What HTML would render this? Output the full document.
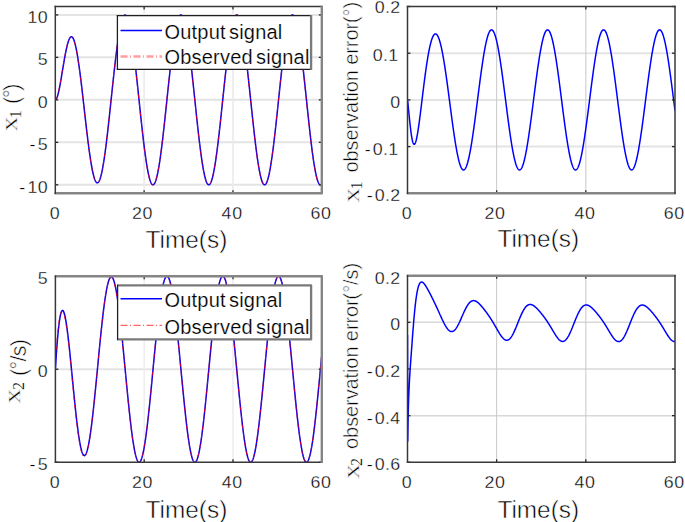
<!DOCTYPE html><html><head><meta charset="utf-8"><style>html,body{margin:0;padding:0;background:#fff;width:685px;height:522px;overflow:hidden}svg{display:block}text{font-family:"Liberation Sans",sans-serif;fill:#000;stroke:#fff;stroke-width:0.50px}.t{stroke-width:0.30px}.l{stroke-width:0.20px}.xs{stroke-width:0.15px}.xx{stroke-width:0.45px}.s{font-family:"Liberation Serif",serif}</style></head><body>
<svg width="685" height="522" viewBox="0 0 685 522">
<defs>
<clipPath id="c0"><rect x="55.30" y="6.40" width="266.50" height="186.90"/></clipPath>
<clipPath id="c1"><rect x="407.50" y="6.50" width="267.50" height="186.80"/></clipPath>
<clipPath id="c2"><rect x="55.40" y="276.20" width="266.40" height="186.10"/></clipPath>
<clipPath id="c3"><rect x="407.50" y="275.70" width="267.50" height="186.60"/></clipPath>
</defs>
<line x1="55.30" y1="184.80" x2="321.80" y2="184.80" stroke="#e4e4e4" stroke-width="2.00"/>
<line x1="55.30" y1="142.33" x2="321.80" y2="142.33" stroke="#e4e4e4" stroke-width="2.00"/>
<line x1="55.30" y1="99.85" x2="321.80" y2="99.85" stroke="#e4e4e4" stroke-width="2.00"/>
<line x1="55.30" y1="57.37" x2="321.80" y2="57.37" stroke="#e4e4e4" stroke-width="2.00"/>
<line x1="55.30" y1="14.90" x2="321.80" y2="14.90" stroke="#e4e4e4" stroke-width="2.00"/>
<line x1="144.13" y1="6.40" x2="144.13" y2="193.30" stroke="#ebebeb" stroke-width="1.60"/>
<line x1="232.97" y1="6.40" x2="232.97" y2="193.30" stroke="#ebebeb" stroke-width="1.60"/>
<g clip-path="url(#c0)">
<path d="M55.30,99.85 L55.52,99.81 L55.74,99.68 L55.97,99.48 L56.19,99.20 L56.41,98.84 L56.63,98.41 L56.85,97.92 L57.08,97.35 L57.30,96.73 L57.52,96.04 L57.74,95.29 L57.96,94.49 L58.19,93.64 L58.41,92.74 L58.63,91.79 L58.85,90.79 L59.08,89.75 L59.30,88.68 L59.52,87.57 L59.74,86.42 L59.96,85.25 L60.19,84.04 L60.41,82.81 L60.63,81.56 L60.85,80.29 L61.07,79.00 L61.30,77.70 L61.52,76.38 L61.74,75.06 L61.96,73.72 L62.18,72.38 L62.41,71.04 L62.63,69.70 L62.85,68.36 L63.07,67.02 L63.29,65.69 L63.52,64.37 L63.74,63.06 L63.96,61.77 L64.18,60.48 L64.41,59.22 L64.63,57.97 L64.85,56.75 L65.07,55.54 L65.29,54.36 L65.52,53.21 L65.74,52.08 L65.96,50.99 L66.18,49.92 L66.40,48.89 L66.63,47.89 L66.85,46.92 L67.07,46.00 L67.29,45.11 L67.51,44.26 L67.74,43.45 L67.96,42.68 L68.18,41.95 L68.40,41.27 L68.62,40.63 L68.85,40.04 L69.07,39.49 L69.29,38.99 L69.51,38.54 L69.74,38.14 L69.96,37.78 L70.18,37.48 L70.40,37.23 L70.62,37.02 L70.85,36.87 L71.07,36.77 L71.29,36.72 L71.51,36.72 L71.73,36.78 L71.96,36.88 L72.18,37.04 L72.40,37.25 L72.62,37.51 L72.84,37.83 L73.07,38.20 L73.29,38.62 L73.51,39.09 L73.73,39.61 L73.95,40.18 L74.18,40.81 L74.40,41.48 L74.62,42.21 L74.84,42.98 L75.07,43.80 L75.29,44.68 L75.51,45.59 L75.73,46.56 L75.95,47.57 L76.18,48.63 L76.40,49.73 L76.62,50.88 L76.84,52.07 L77.06,53.30 L77.29,54.57 L77.51,55.89 L77.73,57.24 L77.95,58.63 L78.17,60.06 L78.40,61.53 L78.62,63.03 L78.84,64.56 L79.06,66.13 L79.28,67.73 L79.51,69.36 L79.73,71.02 L79.95,72.71 L80.17,74.42 L80.40,76.16 L80.62,77.93 L80.84,79.71 L81.06,81.52 L81.28,83.35 L81.51,85.20 L81.73,87.07 L81.95,88.95 L82.17,90.85 L82.39,92.76 L82.62,94.68 L82.84,96.61 L83.06,98.56 L83.28,100.51 L83.50,102.46 L83.73,104.43 L83.95,106.39 L84.17,108.36 L84.39,110.33 L84.61,112.29 L84.84,114.26 L85.06,116.22 L85.28,118.18 L85.50,120.13 L85.73,122.07 L85.95,124.01 L86.17,125.93 L86.39,127.84 L86.61,129.74 L86.84,131.62 L87.06,133.48 L87.28,135.33 L87.50,137.16 L87.72,138.97 L87.95,140.76 L88.17,142.53 L88.39,144.27 L88.61,145.99 L88.83,147.68 L89.06,149.34 L89.28,150.98 L89.50,152.58 L89.72,154.16 L89.94,155.70 L90.17,157.21 L90.39,158.68 L90.61,160.12 L90.83,161.52 L91.06,162.89 L91.28,164.22 L91.50,165.50 L91.72,166.75 L91.94,167.96 L92.17,169.12 L92.39,170.24 L92.61,171.32 L92.83,172.36 L93.05,173.35 L93.28,174.29 L93.50,175.19 L93.72,176.04 L93.94,176.84 L94.16,177.59 L94.39,178.30 L94.61,178.96 L94.83,179.56 L95.05,180.12 L95.28,180.63 L95.50,181.08 L95.72,181.49 L95.94,181.84 L96.16,182.14 L96.39,182.39 L96.61,182.58 L96.83,182.73 L97.05,182.82 L97.27,182.86 L97.50,182.85 L97.72,182.78 L97.94,182.66 L98.16,182.49 L98.38,182.26 L98.61,181.99 L98.83,181.66 L99.05,181.28 L99.27,180.84 L99.49,180.36 L99.72,179.82 L99.94,179.24 L100.16,178.60 L100.38,177.91 L100.60,177.17 L100.83,176.39 L101.05,175.55 L101.27,174.66 L101.49,173.73 L101.72,172.75 L101.94,171.73 L102.16,170.65 L102.38,169.54 L102.60,168.37 L102.83,167.17 L103.05,165.92 L103.27,164.63 L103.49,163.29 L103.71,161.92 L103.94,160.51 L104.16,159.05 L104.38,157.56 L104.60,156.03 L104.82,154.47 L105.05,152.87 L105.27,151.24 L105.49,149.57 L105.71,147.87 L105.94,146.14 L106.16,144.38 L106.38,142.60 L106.60,140.78 L106.82,138.94 L107.05,137.07 L107.27,135.18 L107.49,133.27 L107.71,131.33 L107.93,129.37 L108.16,127.40 L108.38,125.40 L108.60,123.39 L108.82,121.37 L109.04,119.33 L109.27,117.27 L109.49,115.21 L109.71,113.13 L109.93,111.05 L110.15,108.96 L110.38,106.86 L110.60,104.76 L110.82,102.65 L111.04,100.54 L111.27,98.43 L111.49,96.32 L111.71,94.21 L111.93,92.11 L112.15,90.01 L112.38,87.91 L112.60,85.82 L112.82,83.75 L113.04,81.68 L113.26,79.62 L113.49,77.57 L113.71,75.54 L113.93,73.52 L114.15,71.52 L114.37,69.53 L114.60,67.56 L114.82,65.62 L115.04,63.69 L115.26,61.79 L115.48,59.91 L115.71,58.05 L115.93,56.23 L116.15,54.42 L116.37,52.65 L116.59,50.91 L116.82,49.19 L117.04,47.51 L117.26,45.86 L117.48,44.24 L117.71,42.66 L117.93,41.11 L118.15,39.60 L118.37,38.13 L118.59,36.70 L118.82,35.30 L119.04,33.95 L119.26,32.64 L119.48,31.37 L119.70,30.14 L119.93,28.95 L120.15,27.81 L120.37,26.72 L120.59,25.67 L120.81,24.66 L121.04,23.71 L121.26,22.80 L121.48,21.94 L121.70,21.12 L121.92,20.36 L122.15,19.65 L122.37,18.98 L122.59,18.37 L122.81,17.81 L123.04,17.30 L123.26,16.84 L123.48,16.43 L123.70,16.08 L123.92,15.78 L124.15,15.53 L124.37,15.33 L124.59,15.18 L124.81,15.09 L125.03,15.06 L125.26,15.07 L125.48,15.14 L125.70,15.26 L125.92,15.43 L126.14,15.66 L126.37,15.94 L126.59,16.27 L126.81,16.66 L127.03,17.09 L127.25,17.58 L127.48,18.12 L127.70,18.71 L127.92,19.35 L128.14,20.04 L128.37,20.79 L128.59,21.58 L128.81,22.42 L129.03,23.31 L129.25,24.24 L129.48,25.23 L129.70,26.26 L129.92,27.34 L130.14,28.46 L130.36,29.63 L130.59,30.84 L130.81,32.09 L131.03,33.39 L131.25,34.73 L131.47,36.10 L131.70,37.52 L131.92,38.98 L132.14,40.48 L132.36,42.01 L132.59,43.58 L132.81,45.19 L133.03,46.83 L133.25,48.50 L133.47,50.20 L133.70,51.94 L133.92,53.70 L134.14,55.50 L134.36,57.32 L134.58,59.17 L134.81,61.04 L135.03,62.94 L135.25,64.86 L135.47,66.81 L135.69,68.77 L135.92,70.76 L136.14,72.76 L136.36,74.78 L136.58,76.81 L136.80,78.86 L137.03,80.93 L137.25,83.00 L137.47,85.09 L137.69,87.18 L137.92,89.28 L138.14,91.39 L138.36,93.51 L138.58,95.63 L138.80,97.75 L139.03,99.87 L139.25,101.99 L139.47,104.11 L139.69,106.23 L139.91,108.35 L140.14,110.46 L140.36,112.56 L140.58,114.65 L140.80,116.74 L141.02,118.81 L141.25,120.88 L141.47,122.93 L141.69,124.96 L141.91,126.98 L142.13,128.99 L142.36,130.97 L142.58,132.94 L142.80,134.88 L143.02,136.81 L143.25,138.71 L143.47,140.58 L143.69,142.43 L143.91,144.26 L144.13,146.05 L144.36,147.82 L144.58,149.56 L144.80,151.26 L145.02,152.94 L145.24,154.58 L145.47,156.18 L145.69,157.76 L145.91,159.29 L146.13,160.79 L146.35,162.25 L146.58,163.67 L146.80,165.05 L147.02,166.39 L147.24,167.69 L147.46,168.95 L147.69,170.16 L147.91,171.33 L148.13,172.45 L148.35,173.53 L148.57,174.57 L148.80,175.55 L149.02,176.49 L149.24,177.38 L149.46,178.23 L149.69,179.02 L149.91,179.77 L150.13,180.46 L150.35,181.10 L150.57,181.70 L150.80,182.24 L151.02,182.73 L151.24,183.17 L151.46,183.56 L151.68,183.89 L151.91,184.17 L152.13,184.40 L152.35,184.58 L152.57,184.70 L152.79,184.77 L153.02,184.79 L153.24,184.76 L153.46,184.67 L153.68,184.52 L153.91,184.33 L154.13,184.08 L154.35,183.78 L154.57,183.43 L154.79,183.02 L155.02,182.57 L155.24,182.06 L155.46,181.50 L155.68,180.89 L155.90,180.23 L156.13,179.52 L156.35,178.75 L156.57,177.94 L156.79,177.08 L157.01,176.17 L157.24,175.22 L157.46,174.22 L157.68,173.17 L157.90,172.07 L158.12,170.93 L158.35,169.75 L158.57,168.52 L158.79,167.25 L159.01,165.93 L159.24,164.58 L159.46,163.18 L159.68,161.75 L159.90,160.27 L160.12,158.76 L160.35,157.22 L160.57,155.63 L160.79,154.01 L161.01,152.36 L161.23,150.67 L161.46,148.96 L161.68,147.21 L161.90,145.43 L162.12,143.63 L162.34,141.79 L162.57,139.93 L162.79,138.05 L163.01,136.14 L163.23,134.21 L163.45,132.25 L163.68,130.28 L163.90,128.29 L164.12,126.28 L164.34,124.25 L164.56,122.21 L164.79,120.16 L165.01,118.09 L165.23,116.01 L165.45,113.92 L165.68,111.82 L165.90,109.71 L166.12,107.60 L166.34,105.48 L166.56,103.36 L166.79,101.24 L167.01,99.12 L167.23,96.99 L167.45,94.87 L167.67,92.75 L167.90,90.64 L168.12,88.53 L168.34,86.43 L168.56,84.34 L168.78,82.25 L169.01,80.18 L169.23,78.12 L169.45,76.08 L169.67,74.05 L169.89,72.03 L170.12,70.03 L170.34,68.05 L170.56,66.09 L170.78,64.16 L171.01,62.24 L171.23,60.35 L171.45,58.48 L171.67,56.64 L171.89,54.82 L172.12,53.04 L172.34,51.28 L172.56,49.55 L172.78,47.86 L173.00,46.19 L173.23,44.56 L173.45,42.97 L173.67,41.41 L173.89,39.89 L174.11,38.40 L174.34,36.95 L174.56,35.55 L174.78,34.18 L175.00,32.85 L175.22,31.57 L175.45,30.32 L175.67,29.13 L175.89,27.97 L176.11,26.86 L176.34,25.80 L176.56,24.78 L176.78,23.81 L177.00,22.89 L177.22,22.01 L177.45,21.18 L177.67,20.41 L177.89,19.68 L178.11,19.00 L178.33,18.38 L178.56,17.80 L178.78,17.27 L179.00,16.80 L179.22,16.38 L179.44,16.01 L179.67,15.69 L179.89,15.43 L180.11,15.22 L180.33,15.06 L180.56,14.96 L180.78,14.90 L181.00,14.90 L181.22,14.96 L181.44,15.06 L181.67,15.22 L181.89,15.44 L182.11,15.70 L182.33,16.02 L182.55,16.39 L182.78,16.81 L183.00,17.29 L183.22,17.81 L183.44,18.39 L183.66,19.02 L183.89,19.70 L184.11,20.43 L184.33,21.21 L184.55,22.03 L184.77,22.91 L185.00,23.83 L185.22,24.81 L185.44,25.82 L185.66,26.89 L185.88,28.00 L186.11,29.16 L186.33,30.36 L186.55,31.60 L186.77,32.88 L187.00,34.21 L187.22,35.58 L187.44,36.99 L187.66,38.44 L187.88,39.92 L188.11,41.45 L188.33,43.01 L188.55,44.61 L188.77,46.24 L188.99,47.90 L189.22,49.60 L189.44,51.32 L189.66,53.08 L189.88,54.87 L190.10,56.69 L190.33,58.53 L190.55,60.40 L190.77,62.29 L190.99,64.21 L191.22,66.15 L191.44,68.11 L191.66,70.08 L191.88,72.08 L192.10,74.10 L192.33,76.13 L192.55,78.18 L192.77,80.24 L192.99,82.31 L193.21,84.39 L193.44,86.49 L193.66,88.59 L193.88,90.70 L194.10,92.81 L194.32,94.93 L194.55,97.05 L194.77,99.17 L194.99,101.30 L195.21,103.42 L195.43,105.54 L195.66,107.66 L195.88,109.77 L196.10,111.88 L196.32,113.97 L196.55,116.06 L196.77,118.14 L196.99,120.21 L197.21,122.27 L197.43,124.31 L197.66,126.33 L197.88,128.34 L198.10,130.34 L198.32,132.31 L198.54,134.26 L198.77,136.19 L198.99,138.10 L199.21,139.98 L199.43,141.84 L199.65,143.68 L199.88,145.48 L200.10,147.26 L200.32,149.01 L200.54,150.72 L200.76,152.41 L200.99,154.06 L201.21,155.68 L201.43,157.26 L201.65,158.81 L201.88,160.32 L202.10,161.79 L202.32,163.23 L202.54,164.62 L202.76,165.97 L202.99,167.29 L203.21,168.56 L203.43,169.79 L203.65,170.97 L203.87,172.11 L204.10,173.20 L204.32,174.25 L204.54,175.25 L204.76,176.21 L204.98,177.11 L205.21,177.97 L205.43,178.78 L205.65,179.54 L205.87,180.25 L206.09,180.92 L206.32,181.52 L206.54,182.08 L206.76,182.59 L206.98,183.05 L207.21,183.45 L207.43,183.80 L207.65,184.10 L207.87,184.35 L208.09,184.54 L208.32,184.68 L208.54,184.77 L208.76,184.80 L208.98,184.79 L209.20,184.71 L209.43,184.59 L209.65,184.41 L209.87,184.18 L210.09,183.90 L210.31,183.56 L210.54,183.17 L210.76,182.73 L210.98,182.24 L211.20,181.70 L211.42,181.10 L211.65,180.46 L211.87,179.76 L212.09,179.02 L212.31,178.22 L212.54,177.38 L212.76,176.49 L212.98,175.54 L213.20,174.56 L213.42,173.52 L213.65,172.44 L213.87,171.32 L214.09,170.15 L214.31,168.93 L214.53,167.67 L214.76,166.37 L214.98,165.03 L215.20,163.65 L215.42,162.23 L215.64,160.77 L215.87,159.27 L216.09,157.73 L216.31,156.16 L216.53,154.55 L216.75,152.91 L216.98,151.23 L217.20,149.53 L217.42,147.79 L217.64,146.02 L217.87,144.22 L218.09,142.40 L218.31,140.55 L218.53,138.67 L218.75,136.77 L218.98,134.84 L219.20,132.90 L219.42,130.93 L219.64,128.95 L219.86,126.94 L220.09,124.92 L220.31,122.88 L220.53,120.83 L220.75,118.77 L220.97,116.69 L221.20,114.60 L221.42,112.51 L221.64,110.40 L221.86,108.29 L222.08,106.18 L222.31,104.06 L222.53,101.94 L222.75,99.81 L222.97,97.69 L223.19,95.57 L223.42,93.45 L223.64,91.33 L223.86,89.22 L224.08,87.12 L224.31,85.02 L224.53,82.94 L224.75,80.86 L224.97,78.80 L225.19,76.74 L225.42,74.71 L225.64,72.69 L225.86,70.68 L226.08,68.70 L226.30,66.73 L226.53,64.79 L226.75,62.86 L226.97,60.96 L227.19,59.09 L227.41,57.24 L227.64,55.41 L227.86,53.62 L228.08,51.85 L228.30,50.11 L228.52,48.41 L228.75,46.73 L228.97,45.09 L229.19,43.49 L229.41,41.91 L229.64,40.38 L229.86,38.88 L230.08,37.42 L230.30,36.00 L230.52,34.62 L230.75,33.28 L230.97,31.98 L231.19,30.72 L231.41,29.51 L231.63,28.34 L231.86,27.22 L232.08,26.14 L232.30,25.11 L232.52,24.12 L232.74,23.18 L232.97,22.29 L233.19,21.45 L233.41,20.66 L233.63,19.91 L233.86,19.22 L234.08,18.57 L234.30,17.98 L234.52,17.44 L234.74,16.95 L234.97,16.51 L235.19,16.13 L235.41,15.79 L235.63,15.51 L235.85,15.28 L236.08,15.11 L236.30,14.98 L236.52,14.91 L236.74,14.90 L236.96,14.93 L237.19,15.02 L237.41,15.16 L237.63,15.36 L237.85,15.61 L238.07,15.91 L238.30,16.26 L238.52,16.67 L238.74,17.13 L238.96,17.64 L239.19,18.20 L239.41,18.81 L239.63,19.47 L239.85,20.18 L240.07,20.94 L240.30,21.76 L240.52,22.62 L240.74,23.53 L240.96,24.48 L241.18,25.49 L241.41,26.54 L241.63,27.63 L241.85,28.77 L242.07,29.96 L242.29,31.19 L242.52,32.46 L242.74,33.77 L242.96,35.13 L243.18,36.52 L243.40,37.96 L243.63,39.43 L243.85,40.95 L244.07,42.49 L244.29,44.08 L244.51,45.70 L244.74,47.35 L244.96,49.04 L245.18,50.76 L245.40,52.50 L245.63,54.28 L245.85,56.09 L246.07,57.92 L246.29,59.78 L246.51,61.67 L246.74,63.58 L246.96,65.51 L247.18,67.46 L247.40,69.43 L247.62,71.43 L247.85,73.44 L248.07,75.46 L248.29,77.51 L248.51,79.56 L248.73,81.63 L248.96,83.71 L249.18,85.80 L249.40,87.90 L249.62,90.00 L249.85,92.12 L250.07,94.23 L250.29,96.36 L250.51,98.48 L250.73,100.60 L250.96,102.73 L251.18,104.85 L251.40,106.97 L251.62,109.08 L251.84,111.19 L252.07,113.29 L252.29,115.38 L252.51,117.46 L252.73,119.54 L252.95,121.60 L253.18,123.64 L253.40,125.67 L253.62,127.69 L253.84,129.69 L254.06,131.67 L254.29,133.62 L254.51,135.56 L254.73,137.48 L254.95,139.37 L255.18,141.24 L255.40,143.08 L255.62,144.89 L255.84,146.68 L256.06,148.44 L256.29,150.16 L256.51,151.86 L256.73,153.52 L256.95,155.15 L257.17,156.75 L257.40,158.31 L257.62,159.83 L257.84,161.31 L258.06,162.76 L258.28,164.17 L258.51,165.54 L258.73,166.86 L258.95,168.15 L259.17,169.39 L259.39,170.59 L259.62,171.74 L259.84,172.85 L260.06,173.91 L260.28,174.93 L260.50,175.90 L260.73,176.82 L260.95,177.70 L261.17,178.52 L261.39,179.30 L261.62,180.03 L261.84,180.70 L262.06,181.33 L262.28,181.91 L262.50,182.43 L262.73,182.90 L262.95,183.32 L263.17,183.69 L263.39,184.01 L263.61,184.27 L263.84,184.48 L264.06,184.64 L264.28,184.75 L264.50,184.80 L264.72,184.80 L264.95,184.74 L265.17,184.64 L265.39,184.48 L265.61,184.26 L265.84,184.00 L266.06,183.68 L266.28,183.31 L266.50,182.88 L266.72,182.41 L266.95,181.88 L267.17,181.30 L267.39,180.68 L267.61,180.00 L267.83,179.27 L268.06,178.49 L268.28,177.66 L268.50,176.78 L268.72,175.86 L268.94,174.89 L269.17,173.87 L269.39,172.80 L269.61,171.69 L269.83,170.53 L270.05,169.33 L270.28,168.09 L270.50,166.80 L270.72,165.48 L270.94,164.11 L271.16,162.70 L271.39,161.25 L271.61,159.76 L271.83,158.24 L272.05,156.68 L272.28,155.08 L272.50,153.45 L272.72,151.79 L272.94,150.09 L273.16,148.36 L273.39,146.60 L273.61,144.81 L273.83,143.00 L274.05,141.16 L274.27,139.29 L274.50,137.39 L274.72,135.48 L274.94,133.54 L275.16,131.58 L275.38,129.60 L275.61,127.60 L275.83,125.58 L276.05,123.55 L276.27,121.50 L276.50,119.44 L276.72,117.37 L276.94,115.29 L277.16,113.20 L277.38,111.09 L277.61,108.99 L277.83,106.87 L278.05,104.75 L278.27,102.63 L278.49,100.51 L278.72,98.38 L278.94,96.26 L279.16,94.14 L279.38,92.02 L279.60,89.91 L279.83,87.81 L280.05,85.71 L280.27,83.62 L280.49,81.54 L280.71,79.47 L280.94,77.41 L281.16,75.37 L281.38,73.35 L281.60,71.34 L281.82,69.35 L282.05,67.37 L282.27,65.42 L282.49,63.49 L282.71,61.58 L282.94,59.70 L283.16,57.84 L283.38,56.01 L283.60,54.20 L283.82,52.43 L284.05,50.68 L284.27,48.96 L284.49,47.28 L284.71,45.63 L284.93,44.01 L285.16,42.42 L285.38,40.88 L285.60,39.37 L285.82,37.89 L286.04,36.46 L286.27,35.07 L286.49,33.71 L286.71,32.40 L286.93,31.13 L287.16,29.90 L287.38,28.72 L287.60,27.58 L287.82,26.49 L288.04,25.44 L288.27,24.44 L288.49,23.48 L288.71,22.58 L288.93,21.72 L289.15,20.91 L289.38,20.15 L289.60,19.44 L289.82,18.78 L290.04,18.17 L290.26,17.61 L290.49,17.10 L290.71,16.65 L290.93,16.25 L291.15,15.89 L291.37,15.60 L291.60,15.35 L291.82,15.16 L292.04,15.02 L292.26,14.93 L292.49,14.90 L292.71,14.92 L292.93,14.99 L293.15,15.11 L293.37,15.29 L293.60,15.52 L293.82,15.81 L294.04,16.14 L294.26,16.53 L294.48,16.97 L294.71,17.46 L294.93,18.01 L295.15,18.60 L295.37,19.25 L295.59,19.94 L295.82,20.69 L296.04,21.49 L296.26,22.33 L296.48,23.22 L296.70,24.16 L296.93,25.15 L297.15,26.19 L297.37,27.27 L297.59,28.39 L297.81,29.56 L298.04,30.78 L298.26,32.04 L298.48,33.34 L298.70,34.68 L298.93,36.06 L299.15,37.49 L299.37,38.95 L299.59,40.45 L299.81,41.98 L300.04,43.56 L300.26,45.16 L300.48,46.81 L300.70,48.48 L300.92,50.19 L301.15,51.93 L301.37,53.70 L301.59,55.49 L301.81,57.32 L302.03,59.17 L302.26,61.05 L302.48,62.95 L302.70,64.87 L302.92,66.82 L303.14,68.79 L303.37,70.77 L303.59,72.78 L303.81,74.80 L304.03,76.84 L304.26,78.89 L304.48,80.95 L304.70,83.03 L304.92,85.11 L305.14,87.21 L305.37,89.31 L305.59,91.43 L305.81,93.54 L306.03,95.66 L306.25,97.78 L306.48,99.91 L306.70,102.03 L306.92,104.15 L307.14,106.27 L307.36,108.39 L307.59,110.50 L307.81,112.60 L308.03,114.70 L308.25,116.78 L308.48,118.86 L308.70,120.92 L308.92,122.97 L309.14,125.01 L309.36,127.03 L309.59,129.03 L309.81,131.02 L310.03,132.98 L310.25,134.93 L310.47,136.85 L310.70,138.75 L310.92,140.63 L311.14,142.48 L311.36,144.30 L311.58,146.10 L311.81,147.87 L312.03,149.60 L312.25,151.31 L312.47,152.98 L312.69,154.62 L312.92,156.23 L313.14,157.80 L313.36,159.33 L313.58,160.83 L313.81,162.29 L314.03,163.71 L314.25,165.09 L314.47,166.43 L314.69,167.73 L314.92,168.99 L315.14,170.20 L315.36,171.37 L315.58,172.49 L315.80,173.57 L316.03,174.60 L316.25,175.59 L316.47,176.53 L316.69,177.42 L316.91,178.26 L317.14,179.05 L317.36,179.79 L317.58,180.49 L317.80,181.13 L318.02,181.72 L318.25,182.26 L318.47,182.75 L318.69,183.19 L318.91,183.58 L319.14,183.91 L319.36,184.19 L319.58,184.42 L319.80,184.60 L320.02,184.72 L320.25,184.79 L320.47,184.80 L320.69,184.77 L320.91,184.68 L321.13,184.53 L321.36,184.34 L321.58,184.09 L321.80,183.79" fill="none" stroke="#0000ff" stroke-width="1.50" stroke-linejoin="round"/>
<path d="M55.30,99.85 L55.52,99.77 L55.74,99.61 L55.97,99.37 L56.19,99.05 L56.41,98.65 L56.63,98.18 L56.85,97.65 L57.08,97.04 L57.30,96.38 L57.52,95.65 L57.74,94.87 L57.96,94.03 L58.19,93.14 L58.41,92.20 L58.63,91.22 L58.85,90.19 L59.08,89.13 L59.30,88.03 L59.52,86.89 L59.74,85.72 L59.96,84.53 L60.19,83.30 L60.41,82.06 L60.63,80.79 L60.85,79.51 L61.07,78.21 L61.30,76.90 L61.52,75.58 L61.74,74.25 L61.96,72.91 L62.18,71.58 L62.41,70.24 L62.63,68.90 L62.85,67.57 L63.07,66.24 L63.29,64.92 L63.52,63.61 L63.74,62.32 L63.96,61.03 L64.18,59.77 L64.41,58.52 L64.63,57.29 L64.85,56.09 L65.07,54.91 L65.29,53.75 L65.52,52.62 L65.74,51.52 L65.96,50.45 L66.18,49.41 L66.40,48.41 L66.63,47.43 L66.85,46.50 L67.07,45.60 L67.29,44.74 L67.51,43.92 L67.74,43.15 L67.96,42.41 L68.18,41.71 L68.40,41.06 L68.62,40.46 L68.85,39.90 L69.07,39.39 L69.29,38.92 L69.51,38.50 L69.74,38.13 L69.96,37.81 L70.18,37.54 L70.40,37.32 L70.62,37.15 L70.85,37.03 L71.07,36.96 L71.29,36.94 L71.51,36.98 L71.73,37.06 L71.96,37.20 L72.18,37.39 L72.40,37.64 L72.62,37.93 L72.84,38.27 L73.07,38.67 L73.29,39.12 L73.51,39.62 L73.73,40.17 L73.95,40.77 L74.18,41.43 L74.40,42.13 L74.62,42.88 L74.84,43.68 L75.07,44.53 L75.29,45.42 L75.51,46.37 L75.73,47.36 L75.95,48.39 L76.18,49.47 L76.40,50.60 L76.62,51.76 L76.84,52.97 L77.06,54.23 L77.29,55.52 L77.51,56.85 L77.73,58.22 L77.95,59.63 L78.17,61.08 L78.40,62.56 L78.62,64.07 L78.84,65.62 L79.06,67.21 L79.28,68.82 L79.51,70.46 L79.73,72.13 L79.95,73.83 L80.17,75.55 L80.40,77.30 L80.62,79.08 L80.84,80.87 L81.06,82.69 L81.28,84.53 L81.51,86.38 L81.73,88.25 L81.95,90.14 L82.17,92.04 L82.39,93.95 L82.62,95.88 L82.84,97.81 L83.06,99.76 L83.28,101.71 L83.50,103.66 L83.73,105.62 L83.95,107.59 L84.17,109.55 L84.39,111.52 L84.61,113.48 L84.84,115.44 L85.06,117.40 L85.28,119.35 L85.50,121.29 L85.73,123.22 L85.95,125.15 L86.17,127.06 L86.39,128.96 L86.61,130.85 L86.84,132.72 L87.06,134.57 L87.28,136.41 L87.50,138.23 L87.72,140.02 L87.95,141.80 L88.17,143.55 L88.39,145.27 L88.61,146.97 L88.83,148.65 L89.06,150.29 L89.28,151.91 L89.50,153.50 L89.72,155.05 L89.94,156.57 L90.17,158.06 L90.39,159.51 L90.61,160.93 L90.83,162.31 L91.06,163.65 L91.28,164.95 L91.50,166.22 L91.72,167.44 L91.94,168.62 L92.17,169.76 L92.39,170.86 L92.61,171.91 L92.83,172.92 L93.05,173.88 L93.28,174.80 L93.50,175.66 L93.72,176.49 L93.94,177.26 L94.16,177.99 L94.39,178.66 L94.61,179.29 L94.83,179.87 L95.05,180.39 L95.28,180.87 L95.50,181.30 L95.72,181.67 L95.94,181.99 L96.16,182.26 L96.39,182.48 L96.61,182.65 L96.83,182.76 L97.05,182.82 L97.27,182.83 L97.50,182.78 L97.72,182.68 L97.94,182.53 L98.16,182.33 L98.38,182.08 L98.61,181.77 L98.83,181.41 L99.05,181.00 L99.27,180.53 L99.49,180.02 L99.72,179.45 L99.94,178.84 L100.16,178.17 L100.38,177.45 L100.60,176.68 L100.83,175.87 L101.05,175.00 L101.27,174.09 L101.49,173.13 L101.72,172.12 L101.94,171.07 L102.16,169.97 L102.38,168.83 L102.60,167.64 L102.83,166.41 L103.05,165.13 L103.27,163.81 L103.49,162.46 L103.71,161.06 L103.94,159.62 L104.16,158.15 L104.38,156.63 L104.60,155.09 L104.82,153.50 L105.05,151.88 L105.27,150.23 L105.49,148.54 L105.71,146.83 L105.94,145.08 L106.16,143.30 L106.38,141.50 L106.60,139.67 L106.82,137.81 L107.05,135.93 L107.27,134.02 L107.49,132.10 L107.71,130.15 L107.93,128.18 L108.16,126.19 L108.38,124.19 L108.60,122.17 L108.82,120.13 L109.04,118.09 L109.27,116.03 L109.49,113.95 L109.71,111.87 L109.93,109.79 L110.15,107.69 L110.38,105.59 L110.60,103.48 L110.82,101.38 L111.04,99.27 L111.27,97.16 L111.49,95.05 L111.71,92.94 L111.93,90.84 L112.15,88.74 L112.38,86.65 L112.60,84.57 L112.82,82.49 L113.04,80.43 L113.26,78.38 L113.49,76.34 L113.71,74.32 L113.93,72.31 L114.15,70.31 L114.37,68.34 L114.60,66.39 L114.82,64.45 L115.04,62.54 L115.26,60.65 L115.48,58.79 L115.71,56.95 L115.93,55.13 L116.15,53.35 L116.37,51.59 L116.59,49.87 L116.82,48.17 L117.04,46.51 L117.26,44.88 L117.48,43.28 L117.71,41.72 L117.93,40.20 L118.15,38.71 L118.37,37.26 L118.59,35.85 L118.82,34.48 L119.04,33.15 L119.26,31.86 L119.48,30.62 L119.70,29.41 L119.93,28.26 L120.15,27.14 L120.37,26.07 L120.59,25.05 L120.81,24.08 L121.04,23.15 L121.26,22.27 L121.48,21.43 L121.70,20.65 L121.92,19.92 L122.15,19.24 L122.37,18.60 L122.59,18.02 L122.81,17.49 L123.04,17.01 L123.26,16.58 L123.48,16.21 L123.70,15.88 L123.92,15.61 L124.15,15.39 L124.37,15.23 L124.59,15.12 L124.81,15.06 L125.03,15.05 L125.26,15.10 L125.48,15.20 L125.70,15.35 L125.92,15.56 L126.14,15.81 L126.37,16.12 L126.59,16.49 L126.81,16.90 L127.03,17.37 L127.25,17.89 L127.48,18.46 L127.70,19.08 L127.92,19.75 L128.14,20.48 L128.37,21.25 L128.59,22.07 L128.81,22.94 L129.03,23.86 L129.25,24.82 L129.48,25.83 L129.70,26.89 L129.92,28.00 L130.14,29.15 L130.36,30.34 L130.59,31.58 L130.81,32.86 L131.03,34.18 L131.25,35.54 L131.47,36.95 L131.70,38.39 L131.92,39.87 L132.14,41.39 L132.36,42.94 L132.59,44.54 L132.81,46.16 L133.03,47.82 L133.25,49.51 L133.47,51.24 L133.70,52.99 L133.92,54.77 L134.14,56.58 L134.36,58.42 L134.58,60.29 L134.81,62.18 L135.03,64.09 L135.25,66.03 L135.47,67.98 L135.69,69.96 L135.92,71.95 L136.14,73.97 L136.36,76.00 L136.58,78.04 L136.80,80.10 L137.03,82.17 L137.25,84.25 L137.47,86.34 L137.69,88.44 L137.92,90.55 L138.14,92.66 L138.36,94.78 L138.58,96.90 L138.80,99.02 L139.03,101.14 L139.25,103.27 L139.47,105.39 L139.69,107.50 L139.91,109.61 L140.14,111.72 L140.36,113.82 L140.58,115.91 L140.80,117.99 L141.02,120.06 L141.25,122.11 L141.47,124.15 L141.69,126.18 L141.91,128.19 L142.13,130.18 L142.36,132.16 L142.58,134.11 L142.80,136.04 L143.02,137.95 L143.25,139.84 L143.47,141.70 L143.69,143.53 L143.91,145.34 L144.13,147.12 L144.36,148.87 L144.58,150.59 L144.80,152.28 L145.02,153.93 L145.24,155.55 L145.47,157.14 L145.69,158.69 L145.91,160.20 L146.13,161.68 L146.35,163.11 L146.58,164.51 L146.80,165.87 L147.02,167.18 L147.24,168.46 L147.46,169.69 L147.69,170.88 L147.91,172.02 L148.13,173.12 L148.35,174.17 L148.57,175.17 L148.80,176.13 L149.02,177.04 L149.24,177.91 L149.46,178.72 L149.69,179.48 L149.91,180.20 L150.13,180.86 L150.35,181.48 L150.57,182.04 L150.80,182.55 L151.02,183.01 L151.24,183.42 L151.46,183.77 L151.68,184.08 L151.91,184.33 L152.13,184.52 L152.35,184.67 L152.57,184.76 L152.79,184.80 L153.02,184.79 L153.24,184.72 L153.46,184.60 L153.68,184.42 L153.91,184.20 L154.13,183.92 L154.35,183.59 L154.57,183.20 L154.79,182.77 L155.02,182.28 L155.24,181.74 L155.46,181.15 L155.68,180.51 L155.90,179.81 L156.13,179.07 L156.35,178.28 L156.57,177.44 L156.79,176.55 L157.01,175.62 L157.24,174.63 L157.46,173.60 L157.68,172.52 L157.90,171.40 L158.12,170.23 L158.35,169.02 L158.57,167.77 L158.79,166.47 L159.01,165.13 L159.24,163.75 L159.46,162.33 L159.68,160.88 L159.90,159.38 L160.12,157.85 L160.35,156.28 L160.57,154.67 L160.79,153.03 L161.01,151.36 L161.23,149.65 L161.46,147.92 L161.68,146.15 L161.90,144.36 L162.12,142.53 L162.34,140.68 L162.57,138.81 L162.79,136.91 L163.01,134.99 L163.23,133.04 L163.45,131.08 L163.68,129.09 L163.90,127.09 L164.12,125.07 L164.34,123.03 L164.56,120.98 L164.79,118.92 L165.01,116.84 L165.23,114.76 L165.45,112.66 L165.68,110.56 L165.90,108.45 L166.12,106.33 L166.34,104.21 L166.56,102.09 L166.79,99.97 L167.01,97.84 L167.23,95.72 L167.45,93.60 L167.67,91.48 L167.90,89.37 L168.12,87.27 L168.34,85.17 L168.56,83.09 L168.78,81.01 L169.01,78.94 L169.23,76.89 L169.45,74.85 L169.67,72.83 L169.89,70.83 L170.12,68.84 L170.34,66.87 L170.56,64.92 L170.78,63.00 L171.01,61.10 L171.23,59.22 L171.45,57.37 L171.67,55.54 L171.89,53.74 L172.12,51.97 L172.34,50.23 L172.56,48.53 L172.78,46.85 L173.00,45.21 L173.23,43.60 L173.45,42.02 L173.67,40.48 L173.89,38.98 L174.11,37.52 L174.34,36.10 L174.56,34.71 L174.78,33.37 L175.00,32.07 L175.22,30.81 L175.45,29.59 L175.67,28.42 L175.89,27.29 L176.11,26.21 L176.34,25.17 L176.56,24.18 L176.78,23.24 L177.00,22.35 L177.22,21.50 L177.45,20.70 L177.67,19.96 L177.89,19.26 L178.11,18.61 L178.33,18.01 L178.56,17.47 L178.78,16.98 L179.00,16.53 L179.22,16.14 L179.44,15.81 L179.67,15.52 L179.89,15.29 L180.11,15.11 L180.33,14.98 L180.56,14.91 L180.78,14.89 L181.00,14.92 L181.22,15.01 L181.44,15.14 L181.67,15.34 L181.89,15.58 L182.11,15.88 L182.33,16.23 L182.55,16.63 L182.78,17.08 L183.00,17.59 L183.22,18.14 L183.44,18.75 L183.66,19.41 L183.89,20.12 L184.11,20.88 L184.33,21.69 L184.55,22.54 L184.77,23.45 L185.00,24.40 L185.22,25.40 L185.44,26.45 L185.66,27.54 L185.88,28.68 L186.11,29.86 L186.33,31.09 L186.55,32.36 L186.77,33.67 L187.00,35.02 L187.22,36.41 L187.44,37.85 L187.66,39.32 L187.88,40.83 L188.11,42.37 L188.33,43.96 L188.55,45.57 L188.77,47.22 L188.99,48.91 L189.22,50.62 L189.44,52.37 L189.66,54.15 L189.88,55.95 L190.10,57.78 L190.33,59.64 L190.55,61.53 L190.77,63.43 L190.99,65.36 L191.22,67.31 L191.44,69.29 L191.66,71.28 L191.88,73.29 L192.10,75.31 L192.33,77.35 L192.55,79.41 L192.77,81.48 L192.99,83.56 L193.21,85.65 L193.44,87.74 L193.66,89.85 L193.88,91.96 L194.10,94.08 L194.32,96.20 L194.55,98.32 L194.77,100.45 L194.99,102.57 L195.21,104.69 L195.43,106.81 L195.66,108.93 L195.88,111.04 L196.10,113.14 L196.32,115.23 L196.55,117.32 L196.77,119.39 L196.99,121.45 L197.21,123.50 L197.43,125.53 L197.66,127.55 L197.88,129.54 L198.10,131.53 L198.32,133.49 L198.54,135.43 L198.77,137.34 L198.99,139.24 L199.21,141.11 L199.43,142.95 L199.65,144.77 L199.88,146.56 L200.10,148.32 L200.32,150.05 L200.54,151.74 L200.76,153.41 L200.99,155.04 L201.21,156.64 L201.43,158.20 L201.65,159.73 L201.88,161.21 L202.10,162.66 L202.32,164.07 L202.54,165.45 L202.76,166.77 L202.99,168.06 L203.21,169.31 L203.43,170.51 L203.65,171.67 L203.87,172.78 L204.10,173.85 L204.32,174.87 L204.54,175.84 L204.76,176.77 L204.98,177.64 L205.21,178.47 L205.43,179.25 L205.65,179.99 L205.87,180.67 L206.09,181.30 L206.32,181.88 L206.54,182.40 L206.76,182.88 L206.98,183.30 L207.21,183.68 L207.43,184.00 L207.65,184.26 L207.87,184.48 L208.09,184.64 L208.32,184.75 L208.54,184.81 L208.76,184.81 L208.98,184.76 L209.20,184.65 L209.43,184.50 L209.65,184.29 L209.87,184.03 L210.09,183.71 L210.31,183.34 L210.54,182.93 L210.76,182.45 L210.98,181.93 L211.20,181.36 L211.42,180.73 L211.65,180.06 L211.87,179.33 L212.09,178.55 L212.31,177.73 L212.54,176.86 L212.76,175.94 L212.98,174.97 L213.20,173.95 L213.42,172.89 L213.65,171.78 L213.87,170.63 L214.09,169.43 L214.31,168.19 L214.53,166.91 L214.76,165.58 L214.98,164.21 L215.20,162.81 L215.42,161.36 L215.64,159.88 L215.87,158.36 L216.09,156.80 L216.31,155.20 L216.53,153.58 L216.75,151.91 L216.98,150.22 L217.20,148.49 L217.42,146.74 L217.64,144.95 L217.87,143.14 L218.09,141.29 L218.31,139.43 L218.53,137.54 L218.75,135.62 L218.98,133.68 L219.20,131.72 L219.42,129.75 L219.64,127.75 L219.86,125.73 L220.09,123.70 L220.31,121.66 L220.53,119.60 L220.75,117.52 L220.97,115.44 L221.20,113.35 L221.42,111.25 L221.64,109.14 L221.86,107.03 L222.08,104.91 L222.31,102.79 L222.53,100.66 L222.75,98.54 L222.97,96.41 L223.19,94.29 L223.42,92.18 L223.64,90.06 L223.86,87.96 L224.08,85.86 L224.31,83.77 L224.53,81.69 L224.75,79.62 L224.97,77.56 L225.19,75.52 L225.42,73.49 L225.64,71.48 L225.86,69.49 L226.08,67.51 L226.30,65.56 L226.53,63.63 L226.75,61.72 L226.97,59.83 L227.19,57.97 L227.41,56.13 L227.64,54.33 L227.86,52.55 L228.08,50.80 L228.30,49.08 L228.52,47.39 L228.75,45.74 L228.97,44.12 L229.19,42.53 L229.41,40.98 L229.64,39.47 L229.86,37.99 L230.08,36.56 L230.30,35.16 L230.52,33.80 L230.75,32.49 L230.97,31.21 L231.19,29.98 L231.41,28.80 L231.63,27.65 L231.86,26.56 L232.08,25.51 L232.30,24.50 L232.52,23.54 L232.74,22.63 L232.97,21.77 L233.19,20.96 L233.41,20.19 L233.63,19.48 L233.86,18.82 L234.08,18.20 L234.30,17.64 L234.52,17.13 L234.74,16.67 L234.97,16.26 L235.19,15.91 L235.41,15.61 L235.63,15.36 L235.85,15.16 L236.08,15.02 L236.30,14.93 L236.52,14.89 L236.74,14.90 L236.96,14.97 L237.19,15.09 L237.41,15.27 L237.63,15.49 L237.85,15.77 L238.07,16.11 L238.30,16.49 L238.52,16.93 L238.74,17.42 L238.96,17.96 L239.19,18.55 L239.41,19.19 L239.63,19.88 L239.85,20.62 L240.07,21.42 L240.30,22.26 L240.52,23.15 L240.74,24.09 L240.96,25.07 L241.18,26.10 L241.41,27.18 L241.63,28.30 L241.85,29.47 L242.07,30.68 L242.29,31.94 L242.52,33.23 L242.74,34.57 L242.96,35.95 L243.18,37.37 L243.40,38.83 L243.63,40.33 L243.85,41.86 L244.07,43.43 L244.29,45.04 L244.51,46.68 L244.74,48.35 L244.96,50.06 L245.18,51.80 L245.40,53.56 L245.63,55.36 L245.85,57.18 L246.07,59.03 L246.29,60.91 L246.51,62.81 L246.74,64.73 L246.96,66.67 L247.18,68.64 L247.40,70.62 L247.62,72.63 L247.85,74.65 L248.07,76.68 L248.29,78.73 L248.51,80.80 L248.73,82.87 L248.96,84.96 L249.18,87.06 L249.40,89.16 L249.62,91.27 L249.85,93.39 L250.07,95.51 L250.29,97.63 L250.51,99.75 L250.73,101.88 L250.96,104.00 L251.18,106.12 L251.40,108.24 L251.62,110.35 L251.84,112.45 L252.07,114.55 L252.29,116.63 L252.51,118.71 L252.73,120.78 L252.95,122.83 L253.18,124.87 L253.40,126.89 L253.62,128.89 L253.84,130.88 L254.06,132.85 L254.29,134.79 L254.51,136.72 L254.73,138.62 L254.95,140.50 L255.18,142.35 L255.40,144.18 L255.62,145.97 L255.84,147.74 L256.06,149.48 L256.29,151.19 L256.51,152.87 L256.73,154.51 L256.95,156.12 L257.17,157.69 L257.40,159.23 L257.62,160.73 L257.84,162.19 L258.06,163.62 L258.28,165.00 L258.51,166.34 L258.73,167.65 L258.95,168.90 L259.17,170.12 L259.39,171.29 L259.62,172.42 L259.84,173.50 L260.06,174.54 L260.28,175.53 L260.50,176.47 L260.73,177.36 L260.95,178.21 L261.17,179.00 L261.39,179.75 L261.62,180.45 L261.84,181.10 L262.06,181.69 L262.28,182.24 L262.50,182.73 L262.73,183.17 L262.95,183.56 L263.17,183.90 L263.39,184.18 L263.61,184.42 L263.84,184.59 L264.06,184.72 L264.28,184.79 L264.50,184.81 L264.72,184.78 L264.95,184.69 L265.17,184.56 L265.39,184.36 L265.61,184.12 L265.84,183.82 L266.06,183.47 L266.28,183.07 L266.50,182.61 L266.72,182.11 L266.95,181.55 L267.17,180.94 L267.39,180.28 L267.61,179.57 L267.83,178.81 L268.06,178.01 L268.28,177.15 L268.50,176.24 L268.72,175.29 L268.94,174.29 L269.17,173.24 L269.39,172.15 L269.61,171.01 L269.83,169.83 L270.05,168.60 L270.28,167.33 L270.50,166.02 L270.72,164.67 L270.94,163.27 L271.16,161.84 L271.39,160.37 L271.61,158.86 L271.83,157.31 L272.05,155.73 L272.28,154.11 L272.50,152.46 L272.72,150.78 L272.94,149.06 L273.16,147.31 L273.39,145.54 L273.61,143.73 L273.83,141.90 L274.05,140.04 L274.27,138.16 L274.50,136.25 L274.72,134.32 L274.94,132.37 L275.16,130.40 L275.38,128.40 L275.61,126.39 L275.83,124.37 L276.05,122.33 L276.27,120.27 L276.50,118.20 L276.72,116.12 L276.94,114.04 L277.16,111.94 L277.38,109.83 L277.61,107.72 L277.83,105.60 L278.05,103.48 L278.27,101.36 L278.49,99.23 L278.72,97.11 L278.94,94.99 L279.16,92.87 L279.38,90.75 L279.60,88.65 L279.83,86.54 L280.05,84.45 L280.27,82.37 L280.49,80.29 L280.71,78.23 L280.94,76.19 L281.16,74.15 L281.38,72.14 L281.60,70.14 L281.82,68.16 L282.05,66.20 L282.27,64.26 L282.49,62.34 L282.71,60.45 L282.94,58.58 L283.16,56.73 L283.38,54.92 L283.60,53.13 L283.82,51.37 L284.05,49.64 L284.27,47.94 L284.49,46.28 L284.71,44.64 L284.93,43.05 L285.16,41.49 L285.38,39.96 L285.60,38.47 L285.82,37.02 L286.04,35.61 L286.27,34.24 L286.49,32.91 L286.71,31.63 L286.93,30.38 L287.16,29.18 L287.38,28.02 L287.60,26.91 L287.82,25.85 L288.04,24.83 L288.27,23.85 L288.49,22.93 L288.71,22.05 L288.93,21.22 L289.15,20.44 L289.38,19.71 L289.60,19.03 L289.82,18.40 L290.04,17.82 L290.26,17.29 L290.49,16.82 L290.71,16.39 L290.93,16.02 L291.15,15.70 L291.37,15.43 L291.60,15.22 L291.82,15.06 L292.04,14.95 L292.26,14.89 L292.49,14.89 L292.71,14.94 L292.93,15.05 L293.15,15.20 L293.37,15.41 L293.60,15.68 L293.82,15.99 L294.04,16.36 L294.26,16.78 L294.48,17.25 L294.71,17.77 L294.93,18.35 L295.15,18.97 L295.37,19.65 L295.59,20.38 L295.82,21.15 L296.04,21.98 L296.26,22.85 L296.48,23.77 L296.70,24.74 L296.93,25.76 L297.15,26.82 L297.37,27.93 L297.59,29.08 L297.81,30.28 L298.04,31.52 L298.26,32.81 L298.48,34.13 L298.70,35.50 L298.93,36.90 L299.15,38.35 L299.37,39.84 L299.59,41.36 L299.81,42.92 L300.04,44.51 L300.26,46.14 L300.48,47.80 L300.70,49.50 L300.92,51.22 L301.15,52.98 L301.37,54.77 L301.59,56.58 L301.81,58.42 L302.03,60.29 L302.26,62.18 L302.48,64.10 L302.70,66.03 L302.92,67.99 L303.14,69.97 L303.37,71.97 L303.59,73.98 L303.81,76.02 L304.03,78.06 L304.26,80.12 L304.48,82.19 L304.70,84.28 L304.92,86.37 L305.14,88.47 L305.37,90.58 L305.59,92.69 L305.81,94.81 L306.03,96.93 L306.25,99.06 L306.48,101.18 L306.70,103.30 L306.92,105.43 L307.14,107.54 L307.36,109.66 L307.59,111.76 L307.81,113.86 L308.03,115.95 L308.25,118.03 L308.48,120.10 L308.70,122.16 L308.92,124.20 L309.14,126.23 L309.36,128.24 L309.59,130.23 L309.81,132.20 L310.03,134.16 L310.25,136.09 L310.47,138.00 L310.70,139.89 L310.92,141.75 L311.14,143.58 L311.36,145.39 L311.58,147.17 L311.81,148.92 L312.03,150.64 L312.25,152.32 L312.47,153.98 L312.69,155.60 L312.92,157.18 L313.14,158.73 L313.36,160.24 L313.58,161.72 L313.81,163.16 L314.03,164.55 L314.25,165.91 L314.47,167.22 L314.69,168.50 L314.92,169.73 L315.14,170.91 L315.36,172.06 L315.58,173.15 L315.80,174.20 L316.03,175.21 L316.25,176.17 L316.47,177.07 L316.69,177.94 L316.91,178.75 L317.14,179.51 L317.36,180.23 L317.58,180.89 L317.80,181.50 L318.02,182.06 L318.25,182.57 L318.47,183.03 L318.69,183.44 L318.91,183.79 L319.14,184.10 L319.36,184.34 L319.58,184.54 L319.80,184.69 L320.02,184.78 L320.25,184.81 L320.47,184.80 L320.69,184.73 L320.91,184.61 L321.13,184.43 L321.36,184.20 L321.58,183.92 L321.80,183.59" fill="none" stroke="#ff0000" stroke-width="1.00" stroke-dasharray="4,2,1,2" opacity="0.80"/>
</g>
<line x1="144.13" y1="193.30" x2="144.13" y2="190.30" stroke="#262626" stroke-width="1.30"/>
<line x1="144.13" y1="6.40" x2="144.13" y2="9.40" stroke="#262626" stroke-width="1.30"/>
<line x1="232.97" y1="193.30" x2="232.97" y2="190.30" stroke="#262626" stroke-width="1.30"/>
<line x1="232.97" y1="6.40" x2="232.97" y2="9.40" stroke="#262626" stroke-width="1.30"/>
<line x1="55.30" y1="184.80" x2="58.30" y2="184.80" stroke="#262626" stroke-width="1.30"/>
<line x1="321.80" y1="184.80" x2="318.80" y2="184.80" stroke="#262626" stroke-width="1.30"/>
<line x1="55.30" y1="142.33" x2="58.30" y2="142.33" stroke="#262626" stroke-width="1.30"/>
<line x1="321.80" y1="142.33" x2="318.80" y2="142.33" stroke="#262626" stroke-width="1.30"/>
<line x1="55.30" y1="99.85" x2="58.30" y2="99.85" stroke="#262626" stroke-width="1.30"/>
<line x1="321.80" y1="99.85" x2="318.80" y2="99.85" stroke="#262626" stroke-width="1.30"/>
<line x1="55.30" y1="57.37" x2="58.30" y2="57.37" stroke="#262626" stroke-width="1.30"/>
<line x1="321.80" y1="57.37" x2="318.80" y2="57.37" stroke="#262626" stroke-width="1.30"/>
<line x1="55.30" y1="14.90" x2="58.30" y2="14.90" stroke="#262626" stroke-width="1.30"/>
<line x1="321.80" y1="14.90" x2="318.80" y2="14.90" stroke="#262626" stroke-width="1.30"/>
<line x1="54.60" y1="6.40" x2="322.50" y2="6.40" stroke="#383838" stroke-width="1.50"/>
<line x1="54.60" y1="193.30" x2="322.50" y2="193.30" stroke="#858585" stroke-width="2.40"/>
<line x1="55.30" y1="5.70" x2="55.30" y2="194.00" stroke="#383838" stroke-width="1.50"/>
<line x1="321.80" y1="5.70" x2="321.80" y2="194.00" stroke="#858585" stroke-width="2.40"/>
<text class="t" transform="translate(47.90,192.80) scale(1.080,1)" font-size="16.50" letter-spacing="0.30" text-anchor="end"><tspan letter-spacing="2.10">-</tspan>10</text>
<text class="t" transform="translate(47.90,150.33) scale(1.080,1)" font-size="16.50" letter-spacing="0.30" text-anchor="end"><tspan letter-spacing="2.10">-</tspan>5</text>
<text class="t" transform="translate(47.90,107.85) scale(1.080,1)" font-size="16.50" letter-spacing="0.30" text-anchor="end">0</text>
<text class="t" transform="translate(47.90,65.37) scale(1.080,1)" font-size="16.50" letter-spacing="0.30" text-anchor="end">5</text>
<text class="t" transform="translate(47.90,22.90) scale(1.080,1)" font-size="16.50" letter-spacing="0.30" text-anchor="end">10</text>
<text class="t" transform="translate(54.90,218.50) scale(1.080,1)" font-size="16.50" letter-spacing="0.60" text-anchor="middle">0</text>
<text class="t" transform="translate(142.53,218.50) scale(1.080,1)" font-size="16.50" letter-spacing="0.60" text-anchor="middle">20</text>
<text class="t" transform="translate(232.17,218.50) scale(1.080,1)" font-size="16.50" letter-spacing="0.60" text-anchor="middle">40</text>
<text class="t" transform="translate(321.00,218.50) scale(1.080,1)" font-size="16.50" letter-spacing="0.60" text-anchor="middle">60</text>
<line x1="407.50" y1="146.60" x2="675.00" y2="146.60" stroke="#e4e4e4" stroke-width="2.00"/>
<line x1="407.50" y1="99.90" x2="675.00" y2="99.90" stroke="#e4e4e4" stroke-width="2.00"/>
<line x1="407.50" y1="53.20" x2="675.00" y2="53.20" stroke="#e4e4e4" stroke-width="2.00"/>
<line x1="496.67" y1="6.50" x2="496.67" y2="193.30" stroke="#c8c8c8" stroke-width="1.00"/>
<line x1="585.83" y1="6.50" x2="585.83" y2="193.30" stroke="#c8c8c8" stroke-width="1.00"/>
<g clip-path="url(#c1)">
<path d="M407.50,99.91 L407.72,101.82 L407.95,103.83 L408.17,105.93 L408.39,108.10 L408.61,110.30 L408.84,112.53 L409.06,114.76 L409.28,116.98 L409.51,119.17 L409.73,121.32 L409.95,123.41 L410.18,125.45 L410.40,127.40 L410.62,129.28 L410.84,131.06 L411.07,132.75 L411.29,134.33 L411.51,135.80 L411.74,137.17 L411.96,138.41 L412.18,139.54 L412.40,140.55 L412.63,141.44 L412.85,142.21 L413.07,142.86 L413.30,143.39 L413.52,143.80 L413.74,144.09 L413.96,144.26 L414.19,144.33 L414.41,144.27 L414.63,144.11 L414.86,143.85 L415.08,143.48 L415.30,143.01 L415.52,142.44 L415.75,141.78 L415.97,141.03 L416.19,140.20 L416.42,139.28 L416.64,138.28 L416.86,137.21 L417.09,136.07 L417.31,134.87 L417.53,133.60 L417.75,132.27 L417.98,130.88 L418.20,129.44 L418.42,127.96 L418.65,126.43 L418.87,124.85 L419.09,123.24 L419.31,121.60 L419.54,119.92 L419.76,118.22 L419.98,116.49 L420.21,114.74 L420.43,112.96 L420.65,111.18 L420.88,109.38 L421.10,107.56 L421.32,105.74 L421.54,103.91 L421.77,102.08 L421.99,100.25 L422.21,98.41 L422.44,96.58 L422.66,94.76 L422.88,92.94 L423.10,91.12 L423.33,89.32 L423.55,87.53 L423.77,85.75 L424.00,83.99 L424.22,82.24 L424.44,80.51 L424.66,78.80 L424.89,77.11 L425.11,75.44 L425.33,73.79 L425.56,72.17 L425.78,70.57 L426.00,69.00 L426.23,67.45 L426.45,65.93 L426.67,64.44 L426.89,62.98 L427.12,61.55 L427.34,60.14 L427.56,58.77 L427.79,57.44 L428.01,56.13 L428.23,54.86 L428.45,53.62 L428.68,52.41 L428.90,51.24 L429.12,50.11 L429.35,49.01 L429.57,47.94 L429.79,46.92 L430.01,45.93 L430.24,44.97 L430.46,44.06 L430.68,43.18 L430.91,42.34 L431.13,41.54 L431.35,40.78 L431.57,40.06 L431.80,39.37 L432.02,38.73 L432.24,38.12 L432.47,37.56 L432.69,37.04 L432.91,36.55 L433.14,36.11 L433.36,35.70 L433.58,35.34 L433.80,35.01 L434.03,34.73 L434.25,34.49 L434.47,34.29 L434.70,34.13 L434.92,34.01 L435.14,33.93 L435.36,33.89 L435.59,33.89 L435.81,33.93 L436.03,34.02 L436.26,34.14 L436.48,34.30 L436.70,34.51 L436.93,34.75 L437.15,35.03 L437.37,35.36 L437.59,35.72 L437.82,36.12 L438.04,36.56 L438.26,37.04 L438.49,37.56 L438.71,38.12 L438.93,38.72 L439.15,39.35 L439.38,40.02 L439.60,40.73 L439.82,41.47 L440.05,42.26 L440.27,43.07 L440.49,43.93 L440.71,44.81 L440.94,45.74 L441.16,46.70 L441.38,47.69 L441.61,48.71 L441.83,49.77 L442.05,50.86 L442.27,51.98 L442.50,53.13 L442.72,54.31 L442.94,55.52 L443.17,56.76 L443.39,58.03 L443.61,59.33 L443.84,60.65 L444.06,62.00 L444.28,63.38 L444.50,64.77 L444.73,66.20 L444.95,67.64 L445.17,69.11 L445.40,70.60 L445.62,72.11 L445.84,73.64 L446.06,75.19 L446.29,76.75 L446.51,78.33 L446.73,79.93 L446.96,81.54 L447.18,83.17 L447.40,84.80 L447.62,86.45 L447.85,88.11 L448.07,89.78 L448.29,91.46 L448.52,93.15 L448.74,94.84 L448.96,96.54 L449.19,98.24 L449.41,99.94 L449.63,101.65 L449.85,103.36 L450.08,105.07 L450.30,106.77 L450.52,108.48 L450.75,110.18 L450.97,111.87 L451.19,113.56 L451.41,115.25 L451.64,116.92 L451.86,118.59 L452.08,120.24 L452.31,121.89 L452.53,123.52 L452.75,125.14 L452.98,126.75 L453.20,128.34 L453.42,129.91 L453.64,131.47 L453.87,133.01 L454.09,134.52 L454.31,136.02 L454.54,137.50 L454.76,138.95 L454.98,140.38 L455.20,141.79 L455.43,143.17 L455.65,144.53 L455.87,145.85 L456.10,147.15 L456.32,148.42 L456.54,149.66 L456.76,150.88 L456.99,152.06 L457.21,153.20 L457.43,154.32 L457.66,155.40 L457.88,156.45 L458.10,157.46 L458.32,158.44 L458.55,159.38 L458.77,160.28 L458.99,161.15 L459.22,161.98 L459.44,162.77 L459.66,163.52 L459.89,164.23 L460.11,164.90 L460.33,165.53 L460.55,166.12 L460.78,166.67 L461.00,167.18 L461.22,167.65 L461.45,168.07 L461.67,168.45 L461.89,168.79 L462.11,169.09 L462.34,169.34 L462.56,169.55 L462.78,169.72 L463.01,169.84 L463.23,169.92 L463.45,169.96 L463.68,169.95 L463.90,169.90 L464.12,169.80 L464.34,169.66 L464.57,169.48 L464.79,169.25 L465.01,168.98 L465.24,168.67 L465.46,168.31 L465.68,167.91 L465.90,167.47 L466.13,166.99 L466.35,166.47 L466.57,165.90 L466.80,165.29 L467.02,164.64 L467.24,163.95 L467.46,163.22 L467.69,162.46 L467.91,161.65 L468.13,160.80 L468.36,159.92 L468.58,159.00 L468.80,158.04 L469.02,157.04 L469.25,156.01 L469.47,154.95 L469.69,153.85 L469.92,152.71 L470.14,151.54 L470.36,150.34 L470.59,149.11 L470.81,147.85 L471.03,146.56 L471.25,145.24 L471.48,143.89 L471.70,142.52 L471.92,141.11 L472.15,139.68 L472.37,138.23 L472.59,136.75 L472.81,135.25 L473.04,133.73 L473.26,132.18 L473.48,130.62 L473.71,129.04 L473.93,127.44 L474.15,125.82 L474.38,124.18 L474.60,122.53 L474.82,120.87 L475.04,119.19 L475.27,117.50 L475.49,115.80 L475.71,114.09 L475.94,112.37 L476.16,110.64 L476.38,108.91 L476.60,107.17 L476.83,105.43 L477.05,103.68 L477.27,101.93 L477.50,100.18 L477.72,98.43 L477.94,96.68 L478.16,94.93 L478.39,93.18 L478.61,91.44 L478.83,89.71 L479.06,87.98 L479.28,86.26 L479.50,84.54 L479.73,82.84 L479.95,81.15 L480.17,79.47 L480.39,77.80 L480.62,76.14 L480.84,74.50 L481.06,72.88 L481.29,71.27 L481.51,69.68 L481.73,68.11 L481.95,66.56 L482.18,65.03 L482.40,63.52 L482.62,62.04 L482.85,60.58 L483.07,59.14 L483.29,57.73 L483.51,56.34 L483.74,54.99 L483.96,53.66 L484.18,52.36 L484.41,51.08 L484.63,49.84 L484.85,48.63 L485.08,47.46 L485.30,46.31 L485.52,45.20 L485.74,44.12 L485.97,43.08 L486.19,42.08 L486.41,41.11 L486.64,40.17 L486.86,39.28 L487.08,38.42 L487.30,37.60 L487.53,36.82 L487.75,36.08 L487.97,35.37 L488.20,34.71 L488.42,34.09 L488.64,33.51 L488.86,32.97 L489.09,32.48 L489.31,32.02 L489.53,31.61 L489.76,31.24 L489.98,30.92 L490.20,30.63 L490.43,30.39 L490.65,30.20 L490.87,30.05 L491.09,29.94 L491.32,29.87 L491.54,29.85 L491.76,29.87 L491.99,29.94 L492.21,30.05 L492.43,30.20 L492.65,30.40 L492.88,30.64 L493.10,30.92 L493.32,31.25 L493.55,31.62 L493.77,32.03 L493.99,32.49 L494.21,32.98 L494.44,33.52 L494.66,34.10 L494.88,34.72 L495.11,35.39 L495.33,36.09 L495.55,36.83 L495.77,37.61 L496.00,38.43 L496.22,39.29 L496.44,40.19 L496.67,41.12 L496.89,42.09 L497.11,43.10 L497.34,44.14 L497.56,45.22 L497.78,46.33 L498.00,47.48 L498.23,48.66 L498.45,49.87 L498.67,51.11 L498.90,52.38 L499.12,53.68 L499.34,55.01 L499.56,56.37 L499.79,57.75 L500.01,59.17 L500.23,60.60 L500.46,62.06 L500.68,63.55 L500.90,65.06 L501.12,66.59 L501.35,68.14 L501.57,69.71 L501.79,71.30 L502.02,72.91 L502.24,74.53 L502.46,76.17 L502.69,77.83 L502.91,79.50 L503.13,81.18 L503.35,82.87 L503.58,84.57 L503.80,86.29 L504.02,88.01 L504.25,89.74 L504.47,91.47 L504.69,93.22 L504.91,94.96 L505.14,96.71 L505.36,98.46 L505.58,100.21 L505.81,101.96 L506.03,103.71 L506.25,105.46 L506.48,107.20 L506.70,108.94 L506.92,110.67 L507.14,112.40 L507.37,114.12 L507.59,115.83 L507.81,117.53 L508.04,119.22 L508.26,120.90 L508.48,122.56 L508.70,124.21 L508.93,125.85 L509.15,127.46 L509.37,129.07 L509.60,130.65 L509.82,132.21 L510.04,133.76 L510.26,135.28 L510.49,136.78 L510.71,138.26 L510.93,139.71 L511.16,141.14 L511.38,142.54 L511.60,143.92 L511.83,145.26 L512.05,146.58 L512.27,147.88 L512.49,149.14 L512.72,150.37 L512.94,151.56 L513.16,152.73 L513.39,153.86 L513.61,154.96 L513.83,156.03 L514.05,157.06 L514.28,158.05 L514.50,159.01 L514.72,159.93 L514.95,160.82 L515.17,161.66 L515.39,162.47 L515.61,163.24 L515.84,163.97 L516.06,164.65 L516.28,165.30 L516.51,165.91 L516.73,166.47 L516.95,167.00 L517.17,167.48 L517.40,167.92 L517.62,168.32 L517.84,168.67 L518.07,168.98 L518.29,169.25 L518.51,169.48 L518.74,169.66 L518.96,169.80 L519.18,169.89 L519.40,169.94 L519.63,169.95 L519.85,169.91 L520.07,169.83 L520.30,169.71 L520.52,169.54 L520.74,169.33 L520.96,169.07 L521.19,168.77 L521.41,168.43 L521.63,168.05 L521.86,167.62 L522.08,167.15 L522.30,166.64 L522.52,166.09 L522.75,165.49 L522.97,164.86 L523.19,164.18 L523.42,163.47 L523.64,162.71 L523.86,161.92 L524.09,161.08 L524.31,160.21 L524.53,159.30 L524.75,158.35 L524.98,157.37 L525.20,156.35 L525.42,155.30 L525.65,154.21 L525.87,153.09 L526.09,151.93 L526.31,150.74 L526.54,149.52 L526.76,148.27 L526.98,146.99 L527.21,145.68 L527.43,144.34 L527.65,142.97 L527.88,141.57 L528.10,140.15 L528.32,138.71 L528.54,137.24 L528.77,135.74 L528.99,134.23 L529.21,132.69 L529.44,131.13 L529.66,129.56 L529.88,127.96 L530.10,126.35 L530.33,124.72 L530.55,123.07 L530.77,121.41 L531.00,119.74 L531.22,118.06 L531.44,116.36 L531.66,114.65 L531.89,112.93 L532.11,111.21 L532.33,109.48 L532.56,107.74 L532.78,106.00 L533.00,104.25 L533.23,102.50 L533.45,100.75 L533.67,99.00 L533.89,97.25 L534.12,95.50 L534.34,93.76 L534.56,92.01 L534.79,90.28 L535.01,88.54 L535.23,86.82 L535.45,85.10 L535.68,83.40 L535.90,81.70 L536.12,80.01 L536.35,78.34 L536.57,76.68 L536.79,75.04 L537.01,73.41 L537.24,71.80 L537.46,70.20 L537.68,68.62 L537.91,67.07 L538.13,65.53 L538.35,64.02 L538.58,62.52 L538.80,61.05 L539.02,59.61 L539.24,58.19 L539.47,56.79 L539.69,55.43 L539.91,54.09 L540.14,52.78 L540.36,51.50 L540.58,50.25 L540.80,49.03 L541.03,47.84 L541.25,46.68 L541.47,45.56 L541.70,44.47 L541.92,43.42 L542.14,42.40 L542.36,41.42 L542.59,40.47 L542.81,39.57 L543.03,38.69 L543.26,37.86 L543.48,37.07 L543.70,36.31 L543.92,35.60 L544.15,34.92 L544.37,34.29 L544.59,33.70 L544.82,33.15 L545.04,32.64 L545.26,32.17 L545.49,31.74 L545.71,31.36 L545.93,31.02 L546.15,30.72 L546.38,30.47 L546.60,30.26 L546.82,30.09 L547.05,29.97 L547.27,29.89 L547.49,29.85 L547.71,29.86 L547.94,29.91 L548.16,30.01 L548.38,30.15 L548.61,30.33 L548.83,30.56 L549.05,30.82 L549.27,31.14 L549.50,31.49 L549.72,31.89 L549.94,32.33 L550.17,32.82 L550.39,33.34 L550.61,33.91 L550.84,34.52 L551.06,35.16 L551.28,35.85 L551.50,36.58 L551.73,37.35 L551.95,38.16 L552.17,39.01 L552.40,39.89 L552.62,40.81 L552.84,41.77 L553.06,42.77 L553.29,43.80 L553.51,44.86 L553.73,45.97 L553.96,47.10 L554.18,48.27 L554.40,49.47 L554.62,50.70 L554.85,51.96 L555.07,53.25 L555.29,54.57 L555.52,55.92 L555.74,57.30 L555.96,58.70 L556.19,60.13 L556.41,61.58 L556.63,63.06 L556.85,64.56 L557.08,66.09 L557.30,67.63 L557.52,69.19 L557.75,70.78 L557.97,72.38 L558.19,74.00 L558.41,75.63 L558.64,77.28 L558.86,78.95 L559.08,80.62 L559.31,82.31 L559.53,84.01 L559.75,85.73 L559.98,87.44 L560.20,89.17 L560.42,90.91 L560.64,92.64 L560.87,94.39 L561.09,96.14 L561.31,97.89 L561.54,99.64 L561.76,101.39 L561.98,103.14 L562.20,104.89 L562.43,106.63 L562.65,108.37 L562.87,110.11 L563.10,111.84 L563.32,113.56 L563.54,115.27 L563.76,116.98 L563.99,118.67 L564.21,120.35 L564.43,122.02 L564.66,123.67 L564.88,125.31 L565.10,126.94 L565.33,128.54 L565.55,130.13 L565.77,131.70 L565.99,133.25 L566.22,134.78 L566.44,136.29 L566.66,137.77 L566.89,139.24 L567.11,140.67 L567.33,142.08 L567.55,143.47 L567.78,144.83 L568.00,146.16 L568.22,147.46 L568.45,148.73 L568.67,149.97 L568.89,151.18 L569.11,152.35 L569.34,153.50 L569.56,154.61 L569.78,155.68 L570.01,156.73 L570.23,157.73 L570.45,158.70 L570.67,159.64 L570.90,160.53 L571.12,161.39 L571.34,162.21 L571.57,162.99 L571.79,163.73 L572.01,164.43 L572.24,165.09 L572.46,165.71 L572.68,166.29 L572.90,166.83 L573.13,167.33 L573.35,167.78 L573.57,168.19 L573.80,168.56 L574.02,168.89 L574.24,169.17 L574.46,169.41 L574.69,169.60 L574.91,169.76 L575.13,169.86 L575.36,169.93 L575.58,169.95 L575.80,169.93 L576.03,169.86 L576.25,169.75 L576.47,169.60 L576.69,169.40 L576.92,169.16 L577.14,168.87 L577.36,168.55 L577.59,168.18 L577.81,167.76 L578.03,167.31 L578.25,166.81 L578.48,166.27 L578.70,165.69 L578.92,165.07 L579.15,164.41 L579.37,163.71 L579.59,162.96 L579.81,162.18 L580.04,161.36 L580.26,160.50 L580.48,159.60 L580.71,158.67 L580.93,157.70 L581.15,156.69 L581.38,155.65 L581.60,154.57 L581.82,153.46 L582.04,152.31 L582.27,151.13 L582.49,149.92 L582.71,148.68 L582.94,147.41 L583.16,146.11 L583.38,144.78 L583.60,143.42 L583.83,142.03 L584.05,140.62 L584.27,139.18 L584.50,137.72 L584.72,136.24 L584.94,134.73 L585.16,133.20 L585.39,131.65 L585.61,130.08 L585.83,128.49 L586.06,126.88 L586.28,125.25 L586.50,123.61 L586.73,121.96 L586.95,120.29 L587.17,118.61 L587.39,116.92 L587.62,115.21 L587.84,113.50 L588.06,111.78 L588.29,110.05 L588.51,108.31 L588.73,106.57 L588.95,104.82 L589.18,103.08 L589.40,101.33 L589.62,99.57 L589.85,97.82 L590.07,96.07 L590.29,94.33 L590.51,92.58 L590.74,90.84 L590.96,89.11 L591.18,87.38 L591.41,85.66 L591.63,83.95 L591.85,82.25 L592.08,80.57 L592.30,78.89 L592.52,77.22 L592.74,75.57 L592.97,73.94 L593.19,72.32 L593.41,70.72 L593.64,69.14 L593.86,67.57 L594.08,66.03 L594.30,64.51 L594.53,63.01 L594.75,61.53 L594.97,60.08 L595.20,58.65 L595.42,57.25 L595.64,55.87 L595.86,54.52 L596.09,53.20 L596.31,51.91 L596.53,50.65 L596.76,49.42 L596.98,48.22 L597.20,47.06 L597.42,45.93 L597.65,44.83 L597.87,43.76 L598.09,42.73 L598.32,41.74 L598.54,40.78 L598.76,39.86 L598.99,38.98 L599.21,38.13 L599.43,37.32 L599.65,36.56 L599.88,35.83 L600.10,35.14 L600.32,34.49 L600.55,33.89 L600.77,33.32 L600.99,32.80 L601.21,32.32 L601.44,31.88 L601.66,31.48 L601.88,31.13 L602.11,30.81 L602.33,30.55 L602.55,30.32 L602.78,30.14 L603.00,30.00 L603.22,29.91 L603.44,29.86 L603.67,29.85 L603.89,29.89 L604.11,29.97 L604.34,30.10 L604.56,30.26 L604.78,30.48 L605.00,30.73 L605.23,31.03 L605.45,31.37 L605.67,31.76 L605.90,32.18 L606.12,32.65 L606.34,33.16 L606.56,33.72 L606.79,34.31 L607.01,34.95 L607.23,35.62 L607.46,36.34 L607.68,37.10 L607.90,37.89 L608.12,38.73 L608.35,39.60 L608.57,40.51 L608.79,41.45 L609.02,42.44 L609.24,43.46 L609.46,44.51 L609.69,45.60 L609.91,46.72 L610.13,47.88 L610.35,49.07 L610.58,50.29 L610.80,51.54 L611.02,52.82 L611.25,54.14 L611.47,55.48 L611.69,56.84 L611.91,58.24 L612.14,59.66 L612.36,61.10 L612.58,62.58 L612.81,64.07 L613.03,65.58 L613.25,67.12 L613.48,68.68 L613.70,70.26 L613.92,71.85 L614.14,73.47 L614.37,75.10 L614.59,76.74 L614.81,78.40 L615.04,80.07 L615.26,81.76 L615.48,83.46 L615.70,85.16 L615.93,86.88 L616.15,88.61 L616.37,90.34 L616.60,92.07 L616.82,93.82 L617.04,95.56 L617.26,97.31 L617.49,99.06 L617.71,100.81 L617.93,102.57 L618.16,104.31 L618.38,106.06 L618.60,107.80 L618.83,109.54 L619.05,111.27 L619.27,113.00 L619.49,114.71 L619.72,116.42 L619.94,118.12 L620.16,119.80 L620.39,121.47 L620.61,123.13 L620.83,124.78 L621.05,126.41 L621.28,128.02 L621.50,129.61 L621.72,131.19 L621.95,132.75 L622.17,134.28 L622.39,135.80 L622.61,137.29 L622.84,138.76 L623.06,140.20 L623.28,141.62 L623.51,143.02 L623.73,144.38 L623.95,145.72 L624.17,147.03 L624.40,148.31 L624.62,149.56 L624.84,150.78 L625.07,151.97 L625.29,153.13 L625.51,154.25 L625.74,155.34 L625.96,156.39 L626.18,157.41 L626.40,158.39 L626.63,159.33 L626.85,160.24 L627.07,161.11 L627.30,161.95 L627.52,162.74 L627.74,163.49 L627.96,164.21 L628.19,164.88 L628.41,165.52 L628.63,166.11 L628.86,166.66 L629.08,167.17 L629.30,167.64 L629.53,168.06 L629.75,168.44 L629.97,168.78 L630.19,169.08 L630.42,169.33 L630.64,169.54 L630.86,169.71 L631.09,169.83 L631.31,169.91 L631.53,169.95 L631.75,169.94 L631.98,169.89 L632.20,169.79 L632.42,169.65 L632.65,169.47 L632.87,169.24 L633.09,168.97 L633.31,168.66 L633.54,168.30 L633.76,167.90 L633.98,167.46 L634.21,166.98 L634.43,166.45 L634.65,165.89 L634.88,165.28 L635.10,164.63 L635.32,163.94 L635.54,163.21 L635.77,162.44 L635.99,161.63 L636.21,160.79 L636.44,159.90 L636.66,158.98 L636.88,158.02 L637.10,157.02 L637.33,155.99 L637.55,154.93 L637.77,153.82 L638.00,152.69 L638.22,151.52 L638.44,150.32 L638.66,149.09 L638.89,147.83 L639.11,146.54 L639.33,145.22 L639.56,143.87 L639.78,142.49 L640.00,141.09 L640.23,139.66 L640.45,138.20 L640.67,136.73 L640.89,135.22 L641.12,133.70 L641.34,132.16 L641.56,130.59 L641.79,129.01 L642.01,127.41 L642.23,125.79 L642.45,124.15 L642.68,122.50 L642.90,120.84 L643.12,119.16 L643.35,117.47 L643.57,115.77 L643.79,114.06 L644.01,112.34 L644.24,110.61 L644.46,108.88 L644.68,107.14 L644.91,105.40 L645.13,103.65 L645.35,101.90 L645.58,100.15 L645.80,98.40 L646.02,96.65 L646.24,94.90 L646.47,93.15 L646.69,91.41 L646.91,89.68 L647.14,87.95 L647.36,86.23 L647.58,84.51 L647.80,82.81 L648.03,81.12 L648.25,79.44 L648.47,77.77 L648.70,76.11 L648.92,74.47 L649.14,72.85 L649.36,71.24 L649.59,69.65 L649.81,68.08 L650.03,66.53 L650.26,65.00 L650.48,63.50 L650.70,62.01 L650.92,60.55 L651.15,59.12 L651.37,57.70 L651.59,56.32 L651.82,54.96 L652.04,53.63 L652.26,52.33 L652.49,51.06 L652.71,49.82 L652.93,48.61 L653.15,47.44 L653.38,46.29 L653.60,45.18 L653.82,44.11 L654.05,43.06 L654.27,42.06 L654.49,41.09 L654.71,40.16 L654.94,39.26 L655.16,38.40 L655.38,37.58 L655.61,36.80 L655.83,36.06 L656.05,35.36 L656.28,34.70 L656.50,34.08 L656.72,33.50 L656.94,32.96 L657.17,32.47 L657.39,32.02 L657.61,31.61 L657.84,31.24 L658.06,30.91 L658.28,30.63 L658.50,30.39 L658.73,30.20 L658.95,30.04 L659.17,29.94 L659.40,29.87 L659.62,29.85 L659.84,29.87 L660.06,29.94 L660.29,30.05 L660.51,30.20 L660.73,30.40 L660.96,30.64 L661.18,30.93 L661.40,31.26 L661.62,31.63 L661.85,32.04 L662.07,32.49 L662.29,32.99 L662.52,33.53 L662.74,34.11 L662.96,34.74 L663.19,35.40 L663.41,36.10 L663.63,36.84 L663.85,37.63 L664.08,38.45 L664.30,39.31 L664.52,40.21 L664.75,41.14 L664.97,42.11 L665.19,43.12 L665.41,44.16 L665.64,45.24 L665.86,46.35 L666.08,47.50 L666.31,48.68 L666.53,49.89 L666.75,51.13 L666.98,52.40 L667.20,53.70 L667.42,55.03 L667.64,56.39 L667.87,57.78 L668.09,59.19 L668.31,60.63 L668.54,62.09 L668.76,63.58 L668.98,65.09 L669.20,66.62 L669.43,68.17 L669.65,69.74 L669.87,71.33 L670.10,72.94 L670.32,74.56 L670.54,76.20 L670.76,77.86 L670.99,79.52 L671.21,81.21 L671.43,82.90 L671.66,84.60 L671.88,86.32 L672.10,88.04 L672.33,89.77 L672.55,91.51 L672.77,93.25 L672.99,94.99 L673.22,96.74 L673.44,98.49 L673.66,100.24 L673.89,101.99 L674.11,103.74 L674.33,105.49 L674.55,107.23 L674.78,108.97 L675.00,110.71" fill="none" stroke="#0000ff" stroke-width="1.50" stroke-linejoin="round"/>
</g>
<line x1="496.67" y1="193.30" x2="496.67" y2="190.30" stroke="#262626" stroke-width="1.30"/>
<line x1="496.67" y1="6.50" x2="496.67" y2="9.50" stroke="#262626" stroke-width="1.30"/>
<line x1="585.83" y1="193.30" x2="585.83" y2="190.30" stroke="#262626" stroke-width="1.30"/>
<line x1="585.83" y1="6.50" x2="585.83" y2="9.50" stroke="#262626" stroke-width="1.30"/>
<line x1="407.50" y1="193.30" x2="410.50" y2="193.30" stroke="#262626" stroke-width="1.30"/>
<line x1="675.00" y1="193.30" x2="672.00" y2="193.30" stroke="#262626" stroke-width="1.30"/>
<line x1="407.50" y1="146.60" x2="410.50" y2="146.60" stroke="#262626" stroke-width="1.30"/>
<line x1="675.00" y1="146.60" x2="672.00" y2="146.60" stroke="#262626" stroke-width="1.30"/>
<line x1="407.50" y1="99.90" x2="410.50" y2="99.90" stroke="#262626" stroke-width="1.30"/>
<line x1="675.00" y1="99.90" x2="672.00" y2="99.90" stroke="#262626" stroke-width="1.30"/>
<line x1="407.50" y1="53.20" x2="410.50" y2="53.20" stroke="#262626" stroke-width="1.30"/>
<line x1="675.00" y1="53.20" x2="672.00" y2="53.20" stroke="#262626" stroke-width="1.30"/>
<line x1="407.50" y1="6.50" x2="410.50" y2="6.50" stroke="#262626" stroke-width="1.30"/>
<line x1="675.00" y1="6.50" x2="672.00" y2="6.50" stroke="#262626" stroke-width="1.30"/>
<line x1="406.80" y1="6.50" x2="675.70" y2="6.50" stroke="#383838" stroke-width="1.50"/>
<line x1="406.80" y1="193.30" x2="675.70" y2="193.30" stroke="#858585" stroke-width="2.40"/>
<line x1="407.50" y1="5.80" x2="407.50" y2="194.00" stroke="#383838" stroke-width="1.50"/>
<line x1="675.00" y1="5.80" x2="675.00" y2="194.00" stroke="#383838" stroke-width="1.50"/>
<text class="t" transform="translate(400.60,201.30) scale(1.080,1)" font-size="16.50" letter-spacing="0.30" text-anchor="end"><tspan letter-spacing="2.10">-</tspan>0.2</text>
<text class="t" transform="translate(398.60,154.60) scale(1.080,1)" font-size="16.50" letter-spacing="0.30" text-anchor="end"><tspan letter-spacing="2.10">-</tspan>0.1</text>
<text class="t" transform="translate(400.60,107.90) scale(1.080,1)" font-size="16.50" letter-spacing="0.30" text-anchor="end">0</text>
<text class="t" transform="translate(398.60,61.20) scale(1.080,1)" font-size="16.50" letter-spacing="0.30" text-anchor="end">0.1</text>
<text class="t" transform="translate(400.60,13.10) scale(1.080,1)" font-size="16.50" letter-spacing="0.30" text-anchor="end">0.2</text>
<text class="t" transform="translate(407.10,218.50) scale(1.080,1)" font-size="16.50" letter-spacing="0.60" text-anchor="middle">0</text>
<text class="t" transform="translate(495.07,218.50) scale(1.080,1)" font-size="16.50" letter-spacing="0.60" text-anchor="middle">20</text>
<text class="t" transform="translate(585.03,218.50) scale(1.080,1)" font-size="16.50" letter-spacing="0.60" text-anchor="middle">40</text>
<text class="t" transform="translate(674.20,218.50) scale(1.080,1)" font-size="16.50" letter-spacing="0.60" text-anchor="middle">60</text>
<line x1="55.40" y1="369.25" x2="321.80" y2="369.25" stroke="#e4e4e4" stroke-width="2.00"/>
<line x1="144.20" y1="276.20" x2="144.20" y2="462.30" stroke="#eeeeee" stroke-width="1.60"/>
<line x1="233.00" y1="276.20" x2="233.00" y2="462.30" stroke="#eeeeee" stroke-width="1.60"/>
<g clip-path="url(#c2)">
<path d="M55.40,369.25 L55.62,365.58 L55.84,362.03 L56.07,358.59 L56.29,355.27 L56.51,352.07 L56.73,348.98 L56.95,346.01 L57.18,343.16 L57.40,340.44 L57.62,337.83 L57.84,335.34 L58.06,332.98 L58.29,330.73 L58.51,328.61 L58.73,326.61 L58.95,324.73 L59.17,322.97 L59.40,321.33 L59.62,319.81 L59.84,318.41 L60.06,317.12 L60.28,315.95 L60.51,314.90 L60.73,313.96 L60.95,313.14 L61.17,312.43 L61.39,311.83 L61.62,311.34 L61.84,310.96 L62.06,310.68 L62.28,310.51 L62.50,310.45 L62.73,310.48 L62.95,310.62 L63.17,310.85 L63.39,311.18 L63.61,311.60 L63.84,312.12 L64.06,312.73 L64.28,313.42 L64.50,314.20 L64.72,315.06 L64.95,316.01 L65.17,317.03 L65.39,318.13 L65.61,319.31 L65.83,320.56 L66.06,321.88 L66.28,323.26 L66.50,324.72 L66.72,326.23 L66.94,327.80 L67.17,329.44 L67.39,331.13 L67.61,332.87 L67.83,334.66 L68.05,336.50 L68.28,338.39 L68.50,340.32 L68.72,342.29 L68.94,344.29 L69.16,346.34 L69.39,348.42 L69.61,350.52 L69.83,352.66 L70.05,354.82 L70.27,357.01 L70.50,359.22 L70.72,361.44 L70.94,363.68 L71.16,365.94 L71.38,368.21 L71.61,370.48 L71.83,372.77 L72.05,375.06 L72.27,377.35 L72.49,379.64 L72.72,381.93 L72.94,384.21 L73.16,386.49 L73.38,388.76 L73.60,391.02 L73.83,393.26 L74.05,395.49 L74.27,397.71 L74.49,399.91 L74.71,402.08 L74.94,404.23 L75.16,406.36 L75.38,408.47 L75.60,410.54 L75.82,412.58 L76.05,414.60 L76.27,416.58 L76.49,418.52 L76.71,420.43 L76.93,422.31 L77.16,424.14 L77.38,425.93 L77.60,427.68 L77.82,429.38 L78.04,431.05 L78.27,432.66 L78.49,434.23 L78.71,435.75 L78.93,437.22 L79.15,438.64 L79.38,440.00 L79.60,441.32 L79.82,442.58 L80.04,443.78 L80.26,444.94 L80.49,446.03 L80.71,447.07 L80.93,448.05 L81.15,448.97 L81.37,449.83 L81.60,450.63 L81.82,451.38 L82.04,452.06 L82.26,452.68 L82.48,453.24 L82.71,453.74 L82.93,454.17 L83.15,454.55 L83.37,454.86 L83.59,455.11 L83.82,455.30 L84.04,455.42 L84.26,455.48 L84.48,455.48 L84.70,455.42 L84.93,455.29 L85.15,455.10 L85.37,454.85 L85.59,454.54 L85.81,454.16 L86.04,453.73 L86.26,453.23 L86.48,452.68 L86.70,452.06 L86.92,451.38 L87.15,450.65 L87.37,449.86 L87.59,449.01 L87.81,448.10 L88.03,447.14 L88.26,446.12 L88.48,445.05 L88.70,443.92 L88.92,442.74 L89.14,441.51 L89.37,440.22 L89.59,438.89 L89.81,437.51 L90.03,436.08 L90.25,434.60 L90.48,433.07 L90.70,431.50 L90.92,429.89 L91.14,428.23 L91.36,426.53 L91.59,424.79 L91.81,423.02 L92.03,421.20 L92.25,419.35 L92.47,417.46 L92.70,415.54 L92.92,413.58 L93.14,411.60 L93.36,409.58 L93.58,407.54 L93.81,405.46 L94.03,403.37 L94.25,401.24 L94.47,399.10 L94.69,396.93 L94.92,394.74 L95.14,392.54 L95.36,390.32 L95.58,388.08 L95.80,385.83 L96.03,383.56 L96.25,381.29 L96.47,379.00 L96.69,376.71 L96.91,374.41 L97.14,372.11 L97.36,369.80 L97.58,367.49 L97.80,365.18 L98.02,362.88 L98.25,360.57 L98.47,358.27 L98.69,355.98 L98.91,353.69 L99.13,351.41 L99.36,349.14 L99.58,346.89 L99.80,344.65 L100.02,342.42 L100.24,340.21 L100.47,338.01 L100.69,335.84 L100.91,333.69 L101.13,331.55 L101.35,329.45 L101.58,327.36 L101.80,325.30 L102.02,323.27 L102.24,321.27 L102.46,319.30 L102.69,317.36 L102.91,315.45 L103.13,313.58 L103.35,311.74 L103.57,309.94 L103.80,308.18 L104.02,306.45 L104.24,304.76 L104.46,303.12 L104.68,301.51 L104.91,299.95 L105.13,298.43 L105.35,296.96 L105.57,295.53 L105.79,294.15 L106.02,292.82 L106.24,291.54 L106.46,290.30 L106.68,289.12 L106.90,287.98 L107.13,286.90 L107.35,285.87 L107.57,284.89 L107.79,283.97 L108.01,283.10 L108.24,282.28 L108.46,281.52 L108.68,280.81 L108.90,280.16 L109.12,279.57 L109.35,279.03 L109.57,278.55 L109.79,278.13 L110.01,277.77 L110.23,277.46 L110.46,277.22 L110.68,277.03 L110.90,276.89 L111.12,276.82 L111.34,276.81 L111.57,276.85 L111.79,276.95 L112.01,277.12 L112.23,277.33 L112.45,277.61 L112.68,277.95 L112.90,278.34 L113.12,278.79 L113.34,279.30 L113.56,279.86 L113.79,280.49 L114.01,281.16 L114.23,281.90 L114.45,282.68 L114.67,283.53 L114.90,284.42 L115.12,285.38 L115.34,286.38 L115.56,287.44 L115.78,288.54 L116.01,289.70 L116.23,290.91 L116.45,292.17 L116.67,293.48 L116.89,294.83 L117.12,296.24 L117.34,297.68 L117.56,299.18 L117.78,300.72 L118.00,302.30 L118.23,303.92 L118.45,305.59 L118.67,307.29 L118.89,309.03 L119.11,310.82 L119.34,312.64 L119.56,314.49 L119.78,316.38 L120.00,318.30 L120.22,320.26 L120.45,322.24 L120.67,324.26 L120.89,326.30 L121.11,328.37 L121.33,330.47 L121.56,332.59 L121.78,334.74 L122.00,336.90 L122.22,339.09 L122.44,341.30 L122.67,343.52 L122.89,345.76 L123.11,348.01 L123.33,350.28 L123.55,352.56 L123.78,354.85 L124.00,357.15 L124.22,359.46 L124.44,361.78 L124.66,364.09 L124.89,366.42 L125.11,368.74 L125.33,371.07 L125.55,373.39 L125.77,375.71 L126.00,378.03 L126.22,380.34 L126.44,382.64 L126.66,384.94 L126.88,387.23 L127.11,389.50 L127.33,391.77 L127.55,394.02 L127.77,396.25 L127.99,398.47 L128.22,400.66 L128.44,402.84 L128.66,405.00 L128.88,407.14 L129.10,409.25 L129.33,411.34 L129.55,413.40 L129.77,415.43 L129.99,417.43 L130.21,419.41 L130.44,421.35 L130.66,423.26 L130.88,425.14 L131.10,426.98 L131.32,428.79 L131.55,430.55 L131.77,432.28 L131.99,433.97 L132.21,435.62 L132.43,437.23 L132.66,438.80 L132.88,440.32 L133.10,441.80 L133.32,443.23 L133.54,444.62 L133.77,445.96 L133.99,447.25 L134.21,448.49 L134.43,449.68 L134.65,450.83 L134.88,451.92 L135.10,452.96 L135.32,453.94 L135.54,454.88 L135.76,455.76 L135.99,456.59 L136.21,457.36 L136.43,458.08 L136.65,458.74 L136.87,459.34 L137.10,459.89 L137.32,460.38 L137.54,460.82 L137.76,461.20 L137.98,461.52 L138.21,461.78 L138.43,461.98 L138.65,462.13 L138.87,462.22 L139.09,462.25 L139.32,462.22 L139.54,462.14 L139.76,461.99 L139.98,461.79 L140.20,461.53 L140.43,461.21 L140.65,460.84 L140.87,460.41 L141.09,459.92 L141.31,459.37 L141.54,458.77 L141.76,458.11 L141.98,457.40 L142.20,456.63 L142.42,455.80 L142.65,454.92 L142.87,453.99 L143.09,453.01 L143.31,451.97 L143.53,450.88 L143.76,449.74 L143.98,448.55 L144.20,447.31 L144.42,446.02 L144.64,444.69 L144.87,443.30 L145.09,441.87 L145.31,440.40 L145.53,438.88 L145.75,437.31 L145.98,435.71 L146.20,434.06 L146.42,432.37 L146.64,430.64 L146.86,428.88 L147.09,427.07 L147.31,425.24 L147.53,423.36 L147.75,421.45 L147.97,419.51 L148.20,417.54 L148.42,415.54 L148.64,413.50 L148.86,411.44 L149.08,409.36 L149.31,407.25 L149.53,405.11 L149.75,402.96 L149.97,400.78 L150.19,398.58 L150.42,396.36 L150.64,394.13 L150.86,391.88 L151.08,389.62 L151.30,387.34 L151.53,385.06 L151.75,382.76 L151.97,380.45 L152.19,378.14 L152.41,375.82 L152.64,373.50 L152.86,371.18 L153.08,368.85 L153.30,366.52 L153.52,364.20 L153.75,361.88 L153.97,359.56 L154.19,357.25 L154.41,354.95 L154.63,352.66 L154.86,350.37 L155.08,348.10 L155.30,345.84 L155.52,343.60 L155.74,341.37 L155.97,339.16 L156.19,336.97 L156.41,334.80 L156.63,332.65 L156.85,330.52 L157.08,328.42 L157.30,326.34 L157.52,324.29 L157.74,322.27 L157.96,320.27 L158.19,318.31 L158.41,316.38 L158.63,314.48 L158.85,312.62 L159.07,310.79 L159.30,309.00 L159.52,307.25 L159.74,305.53 L159.96,303.86 L160.18,302.22 L160.41,300.63 L160.63,299.08 L160.85,297.58 L161.07,296.11 L161.29,294.70 L161.52,293.33 L161.74,292.01 L161.96,290.74 L162.18,289.51 L162.40,288.34 L162.63,287.22 L162.85,286.14 L163.07,285.12 L163.29,284.16 L163.51,283.24 L163.74,282.38 L163.96,281.58 L164.18,280.82 L164.40,280.13 L164.62,279.49 L164.85,278.90 L165.07,278.38 L165.29,277.90 L165.51,277.49 L165.73,277.13 L165.96,276.83 L166.18,276.59 L166.40,276.41 L166.62,276.28 L166.84,276.22 L167.07,276.21 L167.29,276.26 L167.51,276.36 L167.73,276.53 L167.95,276.75 L168.18,277.03 L168.40,277.37 L168.62,277.77 L168.84,278.22 L169.06,278.73 L169.29,279.30 L169.51,279.92 L169.73,280.60 L169.95,281.33 L170.17,282.12 L170.40,282.97 L170.62,283.86 L170.84,284.81 L171.06,285.82 L171.28,286.87 L171.51,287.98 L171.73,289.14 L171.95,290.35 L172.17,291.60 L172.39,292.91 L172.62,294.26 L172.84,295.66 L173.06,297.11 L173.28,298.60 L173.50,300.14 L173.73,301.72 L173.95,303.34 L174.17,305.00 L174.39,306.70 L174.61,308.44 L174.84,310.22 L175.06,312.04 L175.28,313.89 L175.50,315.78 L175.72,317.70 L175.95,319.65 L176.17,321.64 L176.39,323.65 L176.61,325.69 L176.83,327.76 L177.06,329.85 L177.28,331.97 L177.50,334.12 L177.72,336.28 L177.94,338.47 L178.17,340.67 L178.39,342.89 L178.61,345.13 L178.83,347.39 L179.05,349.65 L179.28,351.93 L179.50,354.23 L179.72,356.53 L179.94,358.83 L180.16,361.15 L180.39,363.47 L180.61,365.79 L180.83,368.12 L181.05,370.44 L181.27,372.77 L181.50,375.09 L181.72,377.41 L181.94,379.73 L182.16,382.03 L182.38,384.33 L182.61,386.62 L182.83,388.90 L183.05,391.17 L183.27,393.43 L183.49,395.66 L183.72,397.89 L183.94,400.09 L184.16,402.27 L184.38,404.44 L184.60,406.58 L184.83,408.70 L185.05,410.79 L185.27,412.86 L185.49,414.90 L185.71,416.92 L185.94,418.90 L186.16,420.85 L186.38,422.77 L186.60,424.66 L186.82,426.51 L187.05,428.32 L187.27,430.10 L187.49,431.84 L187.71,433.54 L187.93,435.21 L188.16,436.83 L188.38,438.40 L188.60,439.94 L188.82,441.43 L189.04,442.87 L189.27,444.27 L189.49,445.63 L189.71,446.93 L189.93,448.19 L190.15,449.39 L190.38,450.55 L190.60,451.66 L190.82,452.71 L191.04,453.71 L191.26,454.66 L191.49,455.56 L191.71,456.40 L191.93,457.19 L192.15,457.92 L192.37,458.60 L192.60,459.22 L192.82,459.79 L193.04,460.29 L193.26,460.75 L193.48,461.14 L193.71,461.48 L193.93,461.76 L194.15,461.98 L194.37,462.14 L194.59,462.25 L194.82,462.30 L195.04,462.29 L195.26,462.22 L195.48,462.09 L195.70,461.91 L195.93,461.66 L196.15,461.36 L196.37,461.00 L196.59,460.59 L196.81,460.12 L197.04,459.59 L197.26,459.00 L197.48,458.36 L197.70,457.66 L197.92,456.91 L198.15,456.10 L198.37,455.24 L198.59,454.32 L198.81,453.36 L199.03,452.33 L199.26,451.26 L199.48,450.14 L199.70,448.96 L199.92,447.74 L200.14,446.46 L200.37,445.14 L200.59,443.77 L200.81,442.36 L201.03,440.89 L201.25,439.39 L201.48,437.84 L201.70,436.24 L201.92,434.61 L202.14,432.93 L202.36,431.22 L202.59,429.46 L202.81,427.67 L203.03,425.84 L203.25,423.98 L203.47,422.08 L203.70,420.15 L203.92,418.18 L204.14,416.19 L204.36,414.17 L204.58,412.12 L204.81,410.04 L205.03,407.93 L205.25,405.81 L205.47,403.66 L205.69,401.49 L205.92,399.29 L206.14,397.08 L206.36,394.85 L206.58,392.61 L206.80,390.35 L207.03,388.08 L207.25,385.80 L207.47,383.50 L207.69,381.20 L207.91,378.89 L208.14,376.57 L208.36,374.25 L208.58,371.93 L208.80,369.60 L209.02,367.27 L209.25,364.95 L209.47,362.63 L209.69,360.31 L209.91,358.00 L210.13,355.69 L210.36,353.39 L210.58,351.11 L210.80,348.83 L211.02,346.57 L211.24,344.32 L211.47,342.09 L211.69,339.87 L211.91,337.67 L212.13,335.49 L212.35,333.34 L212.58,331.20 L212.80,329.09 L213.02,327.01 L213.24,324.95 L213.46,322.92 L213.69,320.91 L213.91,318.94 L214.13,317.00 L214.35,315.09 L214.57,313.22 L214.80,311.38 L215.02,309.57 L215.24,307.81 L215.46,306.08 L215.68,304.39 L215.91,302.74 L216.13,301.14 L216.35,299.57 L216.57,298.05 L216.79,296.58 L217.02,295.15 L217.24,293.77 L217.46,292.43 L217.68,291.14 L217.90,289.90 L218.13,288.71 L218.35,287.57 L218.57,286.48 L218.79,285.45 L219.01,284.46 L219.24,283.53 L219.46,282.65 L219.68,281.83 L219.90,281.06 L220.12,280.34 L220.35,279.69 L220.57,279.08 L220.79,278.54 L221.01,278.05 L221.23,277.61 L221.46,277.24 L221.68,276.92 L221.90,276.66 L222.12,276.46 L222.34,276.31 L222.57,276.23 L222.79,276.20 L223.01,276.23 L223.23,276.32 L223.45,276.46 L223.68,276.67 L223.90,276.93 L224.12,277.25 L224.34,277.63 L224.56,278.06 L224.79,278.55 L225.01,279.10 L225.23,279.71 L225.45,280.37 L225.67,281.08 L225.90,281.86 L226.12,282.68 L226.34,283.56 L226.56,284.49 L226.78,285.48 L227.01,286.52 L227.23,287.61 L227.45,288.75 L227.67,289.94 L227.89,291.19 L228.12,292.48 L228.34,293.81 L228.56,295.20 L228.78,296.63 L229.00,298.11 L229.23,299.63 L229.45,301.19 L229.67,302.80 L229.89,304.45 L230.11,306.14 L230.34,307.87 L230.56,309.64 L230.78,311.44 L231.00,313.28 L231.22,315.16 L231.45,317.07 L231.67,319.01 L231.89,320.98 L232.11,322.99 L232.33,325.02 L232.56,327.08 L232.78,329.17 L233.00,331.28 L233.22,333.41 L233.44,335.57 L233.67,337.75 L233.89,339.95 L234.11,342.17 L234.33,344.40 L234.55,346.65 L234.78,348.91 L235.00,351.19 L235.22,353.48 L235.44,355.77 L235.66,358.08 L235.89,360.39 L236.11,362.71 L236.33,365.03 L236.55,367.36 L236.77,369.68 L237.00,372.01 L237.22,374.33 L237.44,376.65 L237.66,378.97 L237.88,381.28 L238.11,383.58 L238.33,385.88 L238.55,388.16 L238.77,390.43 L238.99,392.69 L239.22,394.93 L239.44,397.16 L239.66,399.37 L239.88,401.56 L240.10,403.73 L240.33,405.88 L240.55,408.01 L240.77,410.11 L240.99,412.19 L241.21,414.24 L241.44,416.26 L241.66,418.25 L241.88,420.22 L242.10,422.15 L242.32,424.04 L242.55,425.91 L242.77,427.73 L242.99,429.52 L243.21,431.28 L243.43,432.99 L243.66,434.67 L243.88,436.30 L244.10,437.89 L244.32,439.44 L244.54,440.95 L244.77,442.41 L244.99,443.82 L245.21,445.19 L245.43,446.51 L245.65,447.78 L245.88,449.00 L246.10,450.18 L246.32,451.30 L246.54,452.37 L246.76,453.39 L246.99,454.36 L247.21,455.27 L247.43,456.13 L247.65,456.94 L247.87,457.69 L248.10,458.38 L248.32,459.02 L248.54,459.61 L248.76,460.13 L248.98,460.61 L249.21,461.02 L249.43,461.37 L249.65,461.67 L249.87,461.91 L250.09,462.10 L250.32,462.22 L250.54,462.29 L250.76,462.30 L250.98,462.25 L251.20,462.14 L251.43,461.97 L251.65,461.75 L251.87,461.47 L252.09,461.13 L252.31,460.73 L252.54,460.28 L252.76,459.77 L252.98,459.20 L253.20,458.58 L253.42,457.90 L253.65,457.16 L253.87,456.37 L254.09,455.53 L254.31,454.63 L254.53,453.68 L254.76,452.68 L254.98,451.62 L255.20,450.51 L255.42,449.35 L255.64,448.14 L255.87,446.89 L256.09,445.58 L256.31,444.23 L256.53,442.82 L256.75,441.38 L256.98,439.89 L257.20,438.35 L257.42,436.77 L257.64,435.15 L257.86,433.49 L258.09,431.78 L258.31,430.04 L258.53,428.26 L258.75,426.44 L258.97,424.59 L259.20,422.70 L259.42,420.78 L259.64,418.83 L259.86,416.85 L260.08,414.83 L260.31,412.79 L260.53,410.72 L260.75,408.63 L260.97,406.51 L261.19,404.36 L261.42,402.20 L261.64,400.01 L261.86,397.81 L262.08,395.59 L262.30,393.35 L262.53,391.09 L262.75,388.82 L262.97,386.54 L263.19,384.25 L263.41,381.95 L263.64,379.64 L263.86,377.33 L264.08,375.01 L264.30,372.69 L264.52,370.36 L264.75,368.04 L264.97,365.71 L265.19,363.39 L265.41,361.07 L265.63,358.75 L265.86,356.44 L266.08,354.14 L266.30,351.85 L266.52,349.57 L266.74,347.31 L266.97,345.05 L267.19,342.82 L267.41,340.59 L267.63,338.39 L267.85,336.20 L268.08,334.04 L268.30,331.90 L268.52,329.78 L268.74,327.69 L268.96,325.62 L269.19,323.58 L269.41,321.56 L269.63,319.58 L269.85,317.63 L270.07,315.71 L270.30,313.83 L270.52,311.98 L270.74,310.16 L270.96,308.38 L271.18,306.64 L271.41,304.94 L271.63,303.28 L271.85,301.66 L272.07,300.08 L272.29,298.55 L272.52,297.06 L272.74,295.61 L272.96,294.21 L273.18,292.86 L273.40,291.56 L273.63,290.30 L273.85,289.10 L274.07,287.94 L274.29,286.83 L274.51,285.78 L274.74,284.78 L274.96,283.83 L275.18,282.93 L275.40,282.09 L275.62,281.30 L275.85,280.57 L276.07,279.89 L276.29,279.27 L276.51,278.71 L276.73,278.20 L276.96,277.75 L277.18,277.36 L277.40,277.02 L277.62,276.74 L277.84,276.52 L278.07,276.36 L278.29,276.25 L278.51,276.20 L278.73,276.21 L278.95,276.28 L279.18,276.41 L279.40,276.60 L279.62,276.84 L279.84,277.14 L280.06,277.50 L280.29,277.91 L280.51,278.39 L280.73,278.92 L280.95,279.50 L281.17,280.15 L281.40,280.84 L281.62,281.60 L281.84,282.41 L282.06,283.27 L282.28,284.18 L282.51,285.15 L282.73,286.17 L282.95,287.25 L283.17,288.37 L283.39,289.55 L283.62,290.77 L283.84,292.05 L284.06,293.37 L284.28,294.74 L284.50,296.16 L284.73,297.62 L284.95,299.13 L285.17,300.68 L285.39,302.27 L285.61,303.91 L285.84,305.58 L286.06,307.30 L286.28,309.05 L286.50,310.85 L286.72,312.68 L286.95,314.54 L287.17,316.44 L287.39,318.37 L287.61,320.33 L287.83,322.33 L288.06,324.35 L288.28,326.40 L288.50,328.48 L288.72,330.58 L288.94,332.71 L289.17,334.86 L289.39,337.03 L289.61,339.23 L289.83,341.44 L290.05,343.67 L290.28,345.91 L290.50,348.17 L290.72,350.44 L290.94,352.73 L291.16,355.02 L291.39,357.32 L291.61,359.63 L291.83,361.95 L292.05,364.27 L292.27,366.59 L292.50,368.92 L292.72,371.25 L292.94,373.57 L293.16,375.89 L293.38,378.21 L293.61,380.52 L293.83,382.83 L294.05,385.13 L294.27,387.41 L294.49,389.69 L294.72,391.95 L294.94,394.20 L295.16,396.43 L295.38,398.65 L295.60,400.85 L295.83,403.03 L296.05,405.18 L296.27,407.32 L296.49,409.43 L296.71,411.51 L296.94,413.57 L297.16,415.60 L297.38,417.61 L297.60,419.58 L297.82,421.52 L298.05,423.43 L298.27,425.30 L298.49,427.14 L298.71,428.94 L298.93,430.71 L299.16,432.44 L299.38,434.12 L299.60,435.77 L299.82,437.38 L300.04,438.94 L300.27,440.46 L300.49,441.93 L300.71,443.36 L300.93,444.75 L301.15,446.08 L301.38,447.37 L301.60,448.61 L301.82,449.80 L302.04,450.94 L302.26,452.03 L302.49,453.06 L302.71,454.05 L302.93,454.98 L303.15,455.86 L303.37,456.68 L303.60,457.45 L303.82,458.16 L304.04,458.82 L304.26,459.42 L304.48,459.97 L304.71,460.46 L304.93,460.89 L305.15,461.26 L305.37,461.58 L305.59,461.84 L305.82,462.04 L306.04,462.19 L306.26,462.27 L306.48,462.30 L306.70,462.27 L306.93,462.18 L307.15,462.03 L307.37,461.83 L307.59,461.57 L307.81,461.25 L308.04,460.87 L308.26,460.43 L308.48,459.94 L308.70,459.39 L308.92,458.79 L309.15,458.13 L309.37,457.41 L309.59,456.64 L309.81,455.81 L310.03,454.93 L310.26,454.00 L310.48,453.01 L310.70,451.97 L310.92,450.88 L311.14,449.74 L311.37,448.54 L311.59,447.30 L311.81,446.01 L312.03,444.67 L312.25,443.29 L312.48,441.86 L312.70,440.38 L312.92,438.86 L313.14,437.29 L313.36,435.68 L313.59,434.03 L313.81,432.34 L314.03,430.61 L314.25,428.85 L314.47,427.04 L314.70,425.20 L314.92,423.33 L315.14,421.42 L315.36,419.47 L315.58,417.50 L315.81,415.50 L316.03,413.46 L316.25,411.40 L316.47,409.32 L316.69,407.20 L316.92,405.07 L317.14,402.91 L317.36,400.73 L317.58,398.53 L317.80,396.31 L318.03,394.08 L318.25,391.83 L318.47,389.57 L318.69,387.29 L318.91,385.00 L319.14,382.71 L319.36,380.40 L319.58,378.09 L319.80,375.77 L320.02,373.45 L320.25,371.12 L320.47,368.80 L320.69,366.47 L320.91,364.15 L321.13,361.83 L321.36,359.51 L321.58,357.20 L321.80,354.90" fill="none" stroke="#0000ff" stroke-width="1.50" stroke-linejoin="round"/>
<path d="M55.40,368.25 L55.62,356.09 L55.84,353.63 L56.07,351.07 L56.29,348.47 L56.51,345.86 L56.73,343.27 L56.95,340.73 L57.18,338.26 L57.40,335.86 L57.62,333.56 L57.84,331.35 L58.06,329.26 L58.29,327.27 L58.51,325.40 L58.73,323.65 L58.95,322.02 L59.17,320.50 L59.40,319.11 L59.62,317.83 L59.84,316.67 L60.06,315.63 L60.28,314.70 L60.51,313.89 L60.73,313.18 L60.95,312.59 L61.17,312.10 L61.39,311.72 L61.62,311.44 L61.84,311.27 L62.06,311.19 L62.28,311.21 L62.50,311.33 L62.73,311.54 L62.95,311.85 L63.17,312.24 L63.39,312.73 L63.61,313.30 L63.84,313.95 L64.06,314.69 L64.28,315.50 L64.50,316.40 L64.72,317.37 L64.95,318.41 L65.17,319.53 L65.39,320.71 L65.61,321.97 L65.83,323.29 L66.06,324.68 L66.28,326.12 L66.50,327.63 L66.72,329.19 L66.94,330.81 L67.17,332.48 L67.39,334.21 L67.61,335.98 L67.83,337.80 L68.05,339.66 L68.28,341.56 L68.50,343.51 L68.72,345.49 L68.94,347.50 L69.16,349.55 L69.39,351.63 L69.61,353.74 L69.83,355.87 L70.05,358.03 L70.27,360.21 L70.50,362.40 L70.72,364.62 L70.94,366.85 L71.16,369.09 L71.38,371.34 L71.61,373.60 L71.83,375.86 L72.05,378.13 L72.27,380.40 L72.49,382.66 L72.72,384.93 L72.94,387.19 L73.16,389.44 L73.38,391.68 L73.60,393.91 L73.83,396.13 L74.05,398.33 L74.27,400.52 L74.49,402.69 L74.71,404.83 L74.94,406.95 L75.16,409.05 L75.38,411.12 L75.60,413.16 L75.82,415.18 L76.05,417.16 L76.27,419.10 L76.49,421.02 L76.71,422.89 L76.93,424.73 L77.16,426.53 L77.38,428.29 L77.60,430.00 L77.82,431.67 L78.04,433.30 L78.27,434.88 L78.49,436.42 L78.71,437.90 L78.93,439.33 L79.15,440.72 L79.38,442.05 L79.60,443.33 L79.82,444.55 L80.04,445.72 L80.26,446.84 L80.49,447.90 L80.71,448.90 L80.93,449.84 L81.15,450.73 L81.37,451.55 L81.60,452.32 L81.82,453.03 L82.04,453.67 L82.26,454.26 L82.48,454.78 L82.71,455.24 L82.93,455.64 L83.15,455.98 L83.37,456.25 L83.59,456.46 L83.82,456.61 L84.04,456.69 L84.26,456.72 L84.48,456.68 L84.70,456.58 L84.93,456.41 L85.15,456.18 L85.37,455.89 L85.59,455.54 L85.81,455.13 L86.04,454.65 L86.26,454.12 L86.48,453.52 L86.70,452.87 L86.92,452.15 L87.15,451.38 L87.37,450.55 L87.59,449.66 L87.81,448.71 L88.03,447.71 L88.26,446.65 L88.48,445.54 L88.70,444.37 L88.92,443.15 L89.14,441.88 L89.37,440.56 L89.59,439.19 L89.81,437.77 L90.03,436.30 L90.25,434.78 L90.48,433.22 L90.70,431.61 L90.92,429.96 L91.14,428.27 L91.36,426.54 L91.59,424.76 L91.81,422.95 L92.03,421.10 L92.25,419.21 L92.47,417.29 L92.70,415.34 L92.92,413.35 L93.14,411.33 L93.36,409.29 L93.58,407.21 L93.81,405.11 L94.03,402.98 L94.25,400.83 L94.47,398.66 L94.69,396.47 L94.92,394.26 L95.14,392.03 L95.36,389.79 L95.58,387.53 L95.80,385.26 L96.03,382.97 L96.25,380.68 L96.47,378.38 L96.69,376.07 L96.91,373.75 L97.14,371.44 L97.36,369.12 L97.58,366.80 L97.80,364.48 L98.02,362.16 L98.25,359.85 L98.47,357.54 L98.69,355.25 L98.91,352.95 L99.13,350.67 L99.36,348.41 L99.58,346.15 L99.80,343.91 L100.02,341.69 L100.24,339.48 L100.47,337.29 L100.69,335.12 L100.91,332.98 L101.13,330.86 L101.35,328.76 L101.58,326.69 L101.80,324.64 L102.02,322.63 L102.24,320.64 L102.46,318.69 L102.69,316.77 L102.91,314.88 L103.13,313.03 L103.35,311.22 L103.57,309.44 L103.80,307.70 L104.02,306.00 L104.24,304.34 L104.46,302.72 L104.68,301.14 L104.91,299.61 L105.13,298.13 L105.35,296.69 L105.57,295.29 L105.79,293.94 L106.02,292.65 L106.24,291.40 L106.46,290.20 L106.68,289.05 L106.90,287.95 L107.13,286.90 L107.35,285.91 L107.57,284.97 L107.79,284.09 L108.01,283.26 L108.24,282.48 L108.46,281.76 L108.68,281.09 L108.90,280.48 L109.12,279.93 L109.35,279.44 L109.57,279.00 L109.79,278.62 L110.01,278.29 L110.23,278.03 L110.46,277.82 L110.68,277.67 L110.90,277.58 L111.12,277.55 L111.34,277.57 L111.57,277.66 L111.79,277.80 L112.01,278.00 L112.23,278.25 L112.45,278.57 L112.68,278.94 L112.90,279.37 L113.12,279.86 L113.34,280.40 L113.56,281.00 L113.79,281.65 L114.01,282.36 L114.23,283.13 L114.45,283.95 L114.67,284.82 L114.90,285.75 L115.12,286.73 L115.34,287.76 L115.56,288.84 L115.78,289.97 L116.01,291.16 L116.23,292.39 L116.45,293.67 L116.67,295.00 L116.89,296.38 L117.12,297.80 L117.34,299.27 L117.56,300.78 L117.78,302.33 L118.00,303.93 L118.23,305.57 L118.45,307.24 L118.67,308.96 L118.89,310.72 L119.11,312.51 L119.34,314.34 L119.56,316.20 L119.78,318.09 L120.00,320.02 L120.22,321.98 L120.45,323.97 L120.67,325.99 L120.89,328.04 L121.11,330.11 L121.33,332.20 L121.56,334.32 L121.78,336.47 L122.00,338.63 L122.22,340.81 L122.44,343.02 L122.67,345.23 L122.89,347.47 L123.11,349.71 L123.33,351.97 L123.55,354.25 L123.78,356.53 L124.00,358.82 L124.22,361.12 L124.44,363.42 L124.66,365.72 L124.89,368.03 L125.11,370.35 L125.33,372.66 L125.55,374.97 L125.77,377.27 L126.00,379.57 L126.22,381.87 L126.44,384.16 L126.66,386.44 L126.88,388.71 L127.11,390.96 L127.33,393.21 L127.55,395.44 L127.77,397.66 L127.99,399.85 L128.22,402.03 L128.44,404.19 L128.66,406.33 L128.88,408.45 L129.10,410.54 L129.33,412.60 L129.55,414.64 L129.77,416.65 L129.99,418.64 L130.21,420.59 L130.44,422.51 L130.66,424.40 L130.88,426.25 L131.10,428.07 L131.32,429.86 L131.55,431.60 L131.77,433.31 L131.99,434.98 L132.21,436.60 L132.43,438.19 L132.66,439.73 L132.88,441.23 L133.10,442.69 L133.32,444.09 L133.54,445.46 L133.77,446.77 L133.99,448.04 L134.21,449.26 L134.43,450.43 L134.65,451.54 L134.88,452.61 L135.10,453.63 L135.32,454.59 L135.54,455.50 L135.76,456.35 L135.99,457.15 L136.21,457.90 L136.43,458.59 L136.65,459.23 L136.87,459.81 L137.10,460.33 L137.32,460.80 L137.54,461.20 L137.76,461.55 L137.98,461.85 L138.21,462.08 L138.43,462.26 L138.65,462.38 L138.87,462.44 L139.09,462.44 L139.32,462.39 L139.54,462.27 L139.76,462.10 L139.98,461.87 L140.20,461.58 L140.43,461.23 L140.65,460.83 L140.87,460.37 L141.09,459.85 L141.31,459.27 L141.54,458.64 L141.76,457.95 L141.98,457.20 L142.20,456.40 L142.42,455.55 L142.65,454.64 L142.87,453.68 L143.09,452.66 L143.31,451.59 L143.53,450.47 L143.76,449.30 L143.98,448.08 L144.20,446.81 L144.42,445.49 L144.64,444.12 L144.87,442.71 L145.09,441.25 L145.31,439.74 L145.53,438.19 L145.75,436.60 L145.98,434.96 L146.20,433.28 L146.42,431.57 L146.64,429.81 L146.86,428.01 L147.09,426.18 L147.31,424.31 L147.53,422.41 L147.75,420.48 L147.97,418.51 L148.20,416.51 L148.42,414.48 L148.64,412.42 L148.86,410.34 L149.08,408.23 L149.31,406.10 L149.53,403.94 L149.75,401.76 L149.97,399.56 L150.19,397.34 L150.42,395.11 L150.64,392.85 L150.86,390.59 L151.08,388.31 L151.30,386.02 L151.53,383.72 L151.75,381.41 L151.97,379.09 L152.19,376.76 L152.41,374.44 L152.64,372.10 L152.86,369.77 L153.08,367.44 L153.30,365.11 L153.52,362.78 L153.75,360.45 L153.97,358.13 L154.19,355.82 L154.41,353.52 L154.63,351.23 L154.86,348.95 L155.08,346.68 L155.30,344.43 L155.52,342.19 L155.74,339.97 L155.97,337.77 L156.19,335.59 L156.41,333.43 L156.63,331.29 L156.85,329.18 L157.08,327.09 L157.30,325.03 L157.52,323.00 L157.74,321.00 L157.96,319.03 L158.19,317.09 L158.41,315.18 L158.63,313.31 L158.85,311.47 L159.07,309.67 L159.30,307.91 L159.52,306.18 L159.74,304.50 L159.96,302.85 L160.18,301.25 L160.41,299.69 L160.63,298.18 L160.85,296.70 L161.07,295.28 L161.29,293.90 L161.52,292.57 L161.74,291.29 L161.96,290.05 L162.18,288.87 L162.40,287.74 L162.63,286.65 L162.85,285.62 L163.07,284.64 L163.29,283.72 L163.51,282.85 L163.74,282.03 L163.96,281.27 L164.18,280.56 L164.40,279.91 L164.62,279.31 L164.85,278.77 L165.07,278.29 L165.29,277.86 L165.51,277.49 L165.73,277.18 L165.96,276.93 L166.18,276.73 L166.40,276.59 L166.62,276.51 L166.84,276.48 L167.07,276.52 L167.29,276.61 L167.51,276.76 L167.73,276.97 L167.95,277.23 L168.18,277.55 L168.40,277.93 L168.62,278.37 L168.84,278.86 L169.06,279.41 L169.29,280.01 L169.51,280.67 L169.73,281.39 L169.95,282.16 L170.17,282.98 L170.40,283.86 L170.62,284.79 L170.84,285.77 L171.06,286.80 L171.28,287.89 L171.51,289.03 L171.73,290.21 L171.95,291.45 L172.17,292.73 L172.39,294.06 L172.62,295.44 L172.84,296.86 L173.06,298.33 L173.28,299.84 L173.50,301.40 L173.73,302.99 L173.95,304.63 L174.17,306.31 L174.39,308.03 L174.61,309.78 L174.84,311.58 L175.06,313.41 L175.28,315.27 L175.50,317.17 L175.72,319.09 L175.95,321.05 L176.17,323.04 L176.39,325.06 L176.61,327.11 L176.83,329.18 L177.06,331.28 L177.28,333.40 L177.50,335.55 L177.72,337.71 L177.94,339.89 L178.17,342.10 L178.39,344.32 L178.61,346.55 L178.83,348.80 L179.05,351.06 L179.28,353.34 L179.50,355.62 L179.72,357.91 L179.94,360.21 L180.16,362.52 L180.39,364.83 L180.61,367.14 L180.83,369.46 L181.05,371.77 L181.27,374.08 L181.50,376.40 L181.72,378.70 L181.94,381.00 L182.16,383.30 L182.38,385.58 L182.61,387.86 L182.83,390.12 L183.05,392.37 L183.27,394.61 L183.49,396.83 L183.72,399.04 L183.94,401.22 L184.16,403.39 L184.38,405.54 L184.60,407.66 L184.83,409.76 L185.05,411.84 L185.27,413.89 L185.49,415.91 L185.71,417.90 L185.94,419.86 L186.16,421.80 L186.38,423.69 L186.60,425.56 L186.82,427.39 L187.05,429.19 L187.27,430.94 L187.49,432.66 L187.71,434.34 L187.93,435.98 L188.16,437.58 L188.38,439.14 L188.60,440.65 L188.82,442.12 L189.04,443.54 L189.27,444.92 L189.49,446.25 L189.71,447.53 L189.93,448.77 L190.15,449.95 L190.38,451.09 L190.60,452.17 L190.82,453.20 L191.04,454.18 L191.26,455.11 L191.49,455.98 L191.71,456.80 L191.93,457.56 L192.15,458.27 L192.37,458.92 L192.60,459.52 L192.82,460.06 L193.04,460.54 L193.26,460.97 L193.48,461.34 L193.71,461.65 L193.93,461.90 L194.15,462.10 L194.37,462.24 L194.59,462.31 L194.82,462.34 L195.04,462.30 L195.26,462.20 L195.48,462.05 L195.70,461.84 L195.93,461.56 L196.15,461.24 L196.37,460.85 L196.59,460.41 L196.81,459.91 L197.04,459.35 L197.26,458.73 L197.48,458.06 L197.70,457.33 L197.92,456.55 L198.15,455.72 L198.37,454.82 L198.59,453.88 L198.81,452.88 L199.03,451.83 L199.26,450.73 L199.48,449.57 L199.70,448.37 L199.92,447.11 L200.14,445.81 L200.37,444.45 L200.59,443.05 L200.81,441.61 L201.03,440.12 L201.25,438.58 L201.48,437.00 L201.70,435.38 L201.92,433.71 L202.14,432.01 L202.36,430.27 L202.59,428.48 L202.81,426.66 L203.03,424.81 L203.25,422.92 L203.47,420.99 L203.70,419.03 L203.92,417.05 L204.14,415.03 L204.36,412.98 L204.58,410.90 L204.81,408.80 L205.03,406.68 L205.25,404.53 L205.47,402.36 L205.69,400.16 L205.92,397.95 L206.14,395.72 L206.36,393.48 L206.58,391.22 L206.80,388.94 L207.03,386.65 L207.25,384.36 L207.47,382.05 L207.69,379.73 L207.91,377.41 L208.14,375.09 L208.36,372.76 L208.58,370.42 L208.80,368.09 L209.02,365.76 L209.25,363.43 L209.47,361.11 L209.69,358.79 L209.91,356.47 L210.13,354.17 L210.36,351.87 L210.58,349.59 L210.80,347.32 L211.02,345.06 L211.24,342.82 L211.47,340.60 L211.69,338.39 L211.91,336.20 L212.13,334.04 L212.35,331.89 L212.58,329.77 L212.80,327.68 L213.02,325.61 L213.24,323.57 L213.46,321.56 L213.69,319.58 L213.91,317.63 L214.13,315.71 L214.35,313.83 L214.57,311.98 L214.80,310.16 L215.02,308.39 L215.24,306.65 L215.46,304.96 L215.68,303.30 L215.91,301.68 L216.13,300.11 L216.35,298.58 L216.57,297.10 L216.79,295.66 L217.02,294.27 L217.24,292.92 L217.46,291.62 L217.68,290.37 L217.90,289.17 L218.13,288.02 L218.35,286.93 L218.57,285.88 L218.79,284.88 L219.01,283.94 L219.24,283.05 L219.46,282.22 L219.68,281.44 L219.90,280.71 L220.12,280.04 L220.35,279.43 L220.57,278.87 L220.79,278.37 L221.01,277.93 L221.23,277.54 L221.46,277.21 L221.68,276.94 L221.90,276.72 L222.12,276.56 L222.34,276.46 L222.57,276.42 L222.79,276.44 L223.01,276.51 L223.23,276.64 L223.45,276.83 L223.68,277.08 L223.90,277.38 L224.12,277.74 L224.34,278.16 L224.56,278.63 L224.79,279.16 L225.01,279.75 L225.23,280.39 L225.45,281.09 L225.67,281.84 L225.90,282.65 L226.12,283.51 L226.34,284.42 L226.56,285.39 L226.78,286.41 L227.01,287.48 L227.23,288.60 L227.45,289.77 L227.67,290.99 L227.89,292.25 L228.12,293.57 L228.34,294.93 L228.56,296.34 L228.78,297.80 L229.00,299.29 L229.23,300.84 L229.45,302.42 L229.67,304.05 L229.89,305.71 L230.11,307.42 L230.34,309.16 L230.56,310.94 L230.78,312.76 L231.00,314.61 L231.22,316.50 L231.45,318.42 L231.67,320.37 L231.89,322.35 L232.11,324.36 L232.33,326.40 L232.56,328.46 L232.78,330.55 L233.00,332.66 L233.22,334.80 L233.44,336.96 L233.67,339.14 L233.89,341.33 L234.11,343.55 L234.33,345.78 L234.55,348.02 L234.78,350.28 L235.00,352.55 L235.22,354.84 L235.44,357.13 L235.66,359.42 L235.89,361.73 L236.11,364.04 L236.33,366.35 L236.55,368.66 L236.77,370.98 L237.00,373.29 L237.22,375.60 L237.44,377.91 L237.66,380.22 L237.88,382.51 L238.11,384.80 L238.33,387.08 L238.55,389.35 L238.77,391.60 L238.99,393.85 L239.22,396.07 L239.44,398.28 L239.66,400.48 L239.88,402.65 L240.10,404.81 L240.33,406.94 L240.55,409.05 L240.77,411.13 L240.99,413.19 L241.21,415.22 L241.44,417.22 L241.66,419.19 L241.88,421.14 L242.10,423.05 L242.32,424.92 L242.55,426.77 L242.77,428.57 L242.99,430.34 L243.21,432.08 L243.43,433.77 L243.66,435.42 L243.88,437.04 L244.10,438.61 L244.32,440.14 L244.54,441.62 L244.77,443.06 L244.99,444.45 L245.21,445.80 L245.43,447.09 L245.65,448.34 L245.88,449.54 L246.10,450.70 L246.32,451.80 L246.54,452.84 L246.76,453.84 L246.99,454.78 L247.21,455.67 L247.43,456.51 L247.65,457.29 L247.87,458.02 L248.10,458.69 L248.32,459.31 L248.54,459.86 L248.76,460.37 L248.98,460.81 L249.21,461.20 L249.43,461.53 L249.65,461.80 L249.87,462.02 L250.09,462.18 L250.32,462.27 L250.54,462.31 L250.76,462.30 L250.98,462.22 L251.20,462.08 L251.43,461.89 L251.65,461.64 L251.87,461.33 L252.09,460.96 L252.31,460.54 L252.54,460.06 L252.76,459.52 L252.98,458.92 L253.20,458.27 L253.42,457.56 L253.65,456.80 L253.87,455.98 L254.09,455.10 L254.31,454.17 L254.53,453.19 L254.76,452.16 L254.98,451.07 L255.20,449.94 L255.42,448.75 L255.64,447.51 L255.87,446.22 L256.09,444.88 L256.31,443.50 L256.53,442.07 L256.75,440.59 L256.98,439.07 L257.20,437.51 L257.42,435.90 L257.64,434.25 L257.86,432.56 L258.09,430.82 L258.31,429.05 L258.53,427.25 L258.75,425.40 L258.97,423.52 L259.20,421.61 L259.42,419.66 L259.64,417.68 L259.86,415.68 L260.08,413.64 L260.31,411.57 L260.53,409.48 L260.75,407.36 L260.97,405.22 L261.19,403.06 L261.42,400.87 L261.64,398.66 L261.86,396.44 L262.08,394.20 L262.30,391.94 L262.53,389.67 L262.75,387.39 L262.97,385.10 L263.19,382.79 L263.41,380.48 L263.64,378.16 L263.86,375.83 L264.08,373.51 L264.30,371.17 L264.52,368.84 L264.75,366.51 L264.97,364.18 L265.19,361.85 L265.41,359.53 L265.63,357.22 L265.86,354.91 L266.08,352.61 L266.30,350.32 L266.52,348.05 L266.74,345.79 L266.97,343.54 L267.19,341.31 L267.41,339.10 L267.63,336.90 L267.85,334.73 L268.08,332.58 L268.30,330.45 L268.52,328.35 L268.74,326.27 L268.96,324.22 L269.19,322.20 L269.41,320.21 L269.63,318.25 L269.85,316.32 L270.07,314.43 L270.30,312.57 L270.52,310.74 L270.74,308.96 L270.96,307.21 L271.18,305.50 L271.41,303.83 L271.63,302.20 L271.85,300.61 L272.07,299.07 L272.29,297.57 L272.52,296.11 L272.74,294.71 L272.96,293.35 L273.18,292.03 L273.40,290.77 L273.63,289.55 L273.85,288.38 L274.07,287.27 L274.29,286.21 L274.51,285.19 L274.74,284.24 L274.96,283.33 L275.18,282.48 L275.40,281.68 L275.62,280.94 L275.85,280.25 L276.07,279.62 L276.29,279.04 L276.51,278.52 L276.73,278.06 L276.96,277.65 L277.18,277.30 L277.40,277.01 L277.62,276.78 L277.84,276.60 L278.07,276.48 L278.29,276.42 L278.51,276.42 L278.73,276.47 L278.95,276.58 L279.18,276.75 L279.40,276.98 L279.62,277.27 L279.84,277.61 L280.06,278.01 L280.29,278.46 L280.51,278.98 L280.73,279.54 L280.95,280.17 L281.17,280.85 L281.40,281.58 L281.62,282.37 L281.84,283.21 L282.06,284.11 L282.28,285.06 L282.51,286.06 L282.73,287.11 L282.95,288.22 L283.17,289.37 L283.39,290.57 L283.62,291.83 L283.84,293.13 L284.06,294.47 L284.28,295.87 L284.50,297.31 L284.73,298.79 L284.95,300.32 L285.17,301.89 L285.39,303.50 L285.61,305.16 L285.84,306.85 L286.06,308.58 L286.28,310.35 L286.50,312.15 L286.72,313.99 L286.95,315.87 L287.17,317.78 L287.39,319.72 L287.61,321.69 L287.83,323.69 L288.06,325.72 L288.28,327.78 L288.50,329.86 L288.72,331.96 L288.94,334.09 L289.17,336.24 L289.39,338.42 L289.61,340.61 L289.83,342.82 L290.05,345.04 L290.28,347.28 L290.50,349.54 L290.72,351.80 L290.94,354.08 L291.16,356.37 L291.39,358.67 L291.61,360.97 L291.83,363.27 L292.05,365.59 L292.27,367.90 L292.50,370.22 L292.72,372.53 L292.94,374.84 L293.16,377.15 L293.38,379.46 L293.61,381.76 L293.83,384.05 L294.05,386.33 L294.27,388.60 L294.49,390.86 L294.72,393.11 L294.94,395.34 L295.16,397.56 L295.38,399.76 L295.60,401.94 L295.83,404.10 L296.05,406.24 L296.27,408.35 L296.49,410.45 L296.71,412.51 L296.94,414.55 L297.16,416.57 L297.38,418.55 L297.60,420.50 L297.82,422.42 L298.05,424.31 L298.27,426.16 L298.49,427.98 L298.71,429.77 L298.93,431.51 L299.16,433.22 L299.38,434.88 L299.60,436.51 L299.82,438.09 L300.04,439.64 L300.27,441.13 L300.49,442.59 L300.71,444.00 L300.93,445.36 L301.15,446.67 L301.38,447.94 L301.60,449.15 L301.82,450.32 L302.04,451.44 L302.26,452.50 L302.49,453.52 L302.71,454.48 L302.93,455.38 L303.15,456.24 L303.37,457.04 L303.60,457.78 L303.82,458.47 L304.04,459.11 L304.26,459.68 L304.48,460.21 L304.71,460.67 L304.93,461.08 L305.15,461.43 L305.37,461.72 L305.59,461.95 L305.82,462.13 L306.04,462.24 L306.26,462.30 L306.48,462.30 L306.70,462.25 L306.93,462.13 L307.15,461.96 L307.37,461.73 L307.59,461.43 L307.81,461.09 L308.04,460.68 L308.26,460.22 L308.48,459.70 L308.70,459.12 L308.92,458.48 L309.15,457.79 L309.37,457.05 L309.59,456.25 L309.81,455.39 L310.03,454.48 L310.26,453.52 L310.48,452.50 L310.70,451.43 L310.92,450.31 L311.14,449.14 L311.37,447.92 L311.59,446.65 L311.81,445.32 L312.03,443.96 L312.25,442.54 L312.48,441.08 L312.70,439.57 L312.92,438.02 L313.14,436.43 L313.36,434.79 L313.59,433.11 L313.81,431.39 L314.03,429.64 L314.25,427.84 L314.47,426.01 L314.70,424.14 L314.92,422.24 L315.14,420.30 L315.36,418.33 L315.58,416.33 L315.81,414.31 L316.03,412.25 L316.25,410.16 L316.47,408.06 L316.69,405.92 L316.92,403.76 L317.14,401.59 L317.36,399.39 L317.58,397.17 L317.80,394.93 L318.03,392.68 L318.25,390.42 L318.47,388.14 L318.69,385.85 L318.91,383.55 L319.14,381.24 L319.36,378.92 L319.58,376.59 L319.80,374.27 L320.02,371.94 L320.25,369.60 L320.47,367.27 L320.69,364.94 L320.91,362.61 L321.13,360.29 L321.36,357.97 L321.58,355.66 L321.80,353.36" fill="none" stroke="#ff0000" stroke-width="1.00" stroke-dasharray="4,2,1,2" opacity="0.80"/>
</g>
<line x1="144.20" y1="462.30" x2="144.20" y2="459.30" stroke="#262626" stroke-width="1.30"/>
<line x1="144.20" y1="276.20" x2="144.20" y2="279.20" stroke="#262626" stroke-width="1.30"/>
<line x1="233.00" y1="462.30" x2="233.00" y2="459.30" stroke="#262626" stroke-width="1.30"/>
<line x1="233.00" y1="276.20" x2="233.00" y2="279.20" stroke="#262626" stroke-width="1.30"/>
<line x1="55.40" y1="462.30" x2="58.40" y2="462.30" stroke="#262626" stroke-width="1.30"/>
<line x1="321.80" y1="462.30" x2="318.80" y2="462.30" stroke="#262626" stroke-width="1.30"/>
<line x1="55.40" y1="369.25" x2="58.40" y2="369.25" stroke="#262626" stroke-width="1.30"/>
<line x1="321.80" y1="369.25" x2="318.80" y2="369.25" stroke="#262626" stroke-width="1.30"/>
<line x1="55.40" y1="276.20" x2="58.40" y2="276.20" stroke="#262626" stroke-width="1.30"/>
<line x1="321.80" y1="276.20" x2="318.80" y2="276.20" stroke="#262626" stroke-width="1.30"/>
<line x1="54.70" y1="276.20" x2="322.50" y2="276.20" stroke="#858585" stroke-width="2.40"/>
<line x1="54.70" y1="462.30" x2="322.50" y2="462.30" stroke="#383838" stroke-width="1.50"/>
<line x1="55.40" y1="275.50" x2="55.40" y2="463.00" stroke="#383838" stroke-width="1.50"/>
<line x1="321.80" y1="275.50" x2="321.80" y2="463.00" stroke="#858585" stroke-width="2.40"/>
<text class="t" transform="translate(47.90,470.30) scale(1.080,1)" font-size="16.50" letter-spacing="0.30" text-anchor="end"><tspan letter-spacing="2.10">-</tspan>5</text>
<text class="t" transform="translate(47.90,377.25) scale(1.080,1)" font-size="16.50" letter-spacing="0.30" text-anchor="end">0</text>
<text class="t" transform="translate(47.90,284.20) scale(1.080,1)" font-size="16.50" letter-spacing="0.30" text-anchor="end">5</text>
<text class="t" transform="translate(55.00,487.60) scale(1.080,1)" font-size="16.50" letter-spacing="0.60" text-anchor="middle">0</text>
<text class="t" transform="translate(142.60,487.60) scale(1.080,1)" font-size="16.50" letter-spacing="0.60" text-anchor="middle">20</text>
<text class="t" transform="translate(232.20,487.60) scale(1.080,1)" font-size="16.50" letter-spacing="0.60" text-anchor="middle">40</text>
<text class="t" transform="translate(321.00,487.60) scale(1.080,1)" font-size="16.50" letter-spacing="0.60" text-anchor="middle">60</text>
<line x1="407.50" y1="415.65" x2="675.00" y2="415.65" stroke="#d8d8d8" stroke-width="1.50"/>
<line x1="407.50" y1="369.00" x2="675.00" y2="369.00" stroke="#d8d8d8" stroke-width="1.50"/>
<line x1="407.50" y1="322.35" x2="675.00" y2="322.35" stroke="#d8d8d8" stroke-width="1.50"/>
<line x1="496.67" y1="275.70" x2="496.67" y2="462.30" stroke="#c8c8c8" stroke-width="1.00"/>
<line x1="585.83" y1="275.70" x2="585.83" y2="462.30" stroke="#c8c8c8" stroke-width="1.00"/>
<g clip-path="url(#c3)">
<path d="M407.50,334.95 L407.72,441.31 L407.95,427.69 L408.17,416.64 L408.39,407.60 L408.61,400.13 L408.84,393.86 L409.06,388.51 L409.28,383.85 L409.51,379.69 L409.73,375.89 L409.95,372.36 L410.18,368.99 L410.40,365.75 L410.62,362.58 L410.84,359.45 L411.07,356.35 L411.29,353.27 L411.51,350.20 L411.74,347.13 L411.96,344.08 L412.18,341.06 L412.40,338.05 L412.63,335.09 L412.85,332.17 L413.07,329.30 L413.30,326.49 L413.52,323.75 L413.74,321.08 L413.96,318.49 L414.19,315.99 L414.41,313.58 L414.63,311.26 L414.86,309.04 L415.08,306.91 L415.30,304.89 L415.52,302.96 L415.75,301.14 L415.97,299.41 L416.19,297.79 L416.42,296.26 L416.64,294.83 L416.86,293.49 L417.09,292.24 L417.31,291.08 L417.53,290.00 L417.75,289.02 L417.98,288.11 L418.20,287.27 L418.42,286.52 L418.65,285.83 L418.87,285.21 L419.09,284.66 L419.31,284.17 L419.54,283.73 L419.76,283.36 L419.98,283.03 L420.21,282.76 L420.43,282.54 L420.65,282.36 L420.88,282.22 L421.10,282.12 L421.32,282.07 L421.54,282.04 L421.77,282.05 L421.99,282.10 L422.21,282.17 L422.44,282.27 L422.66,282.39 L422.88,282.54 L423.10,282.71 L423.33,282.90 L423.55,283.11 L423.77,283.35 L424.00,283.59 L424.22,283.85 L424.44,284.13 L424.66,284.42 L424.89,284.73 L425.11,285.04 L425.33,285.37 L425.56,285.70 L425.78,286.05 L426.00,286.40 L426.23,286.76 L426.45,287.13 L426.67,287.51 L426.89,287.89 L427.12,288.27 L427.34,288.66 L427.56,289.06 L427.79,289.46 L428.01,289.87 L428.23,290.27 L428.45,290.68 L428.68,291.10 L428.90,291.52 L429.12,291.94 L429.35,292.36 L429.57,292.78 L429.79,293.21 L430.01,293.64 L430.24,294.07 L430.46,294.51 L430.68,294.94 L430.91,295.38 L431.13,295.82 L431.35,296.26 L431.57,296.70 L431.80,297.14 L432.02,297.59 L432.24,298.03 L432.47,298.48 L432.69,298.93 L432.91,299.38 L433.14,299.84 L433.36,300.29 L433.58,300.75 L433.80,301.21 L434.03,301.67 L434.25,302.13 L434.47,302.60 L434.70,303.06 L434.92,303.53 L435.14,304.00 L435.36,304.47 L435.59,304.94 L435.81,305.42 L436.03,305.90 L436.26,306.38 L436.48,306.86 L436.70,307.34 L436.93,307.82 L437.15,308.31 L437.37,308.79 L437.59,309.28 L437.82,309.77 L438.04,310.26 L438.26,310.75 L438.49,311.24 L438.71,311.74 L438.93,312.23 L439.15,312.72 L439.38,313.22 L439.60,313.71 L439.82,314.21 L440.05,314.70 L440.27,315.19 L440.49,315.69 L440.71,316.18 L440.94,316.67 L441.16,317.15 L441.38,317.64 L441.61,318.12 L441.83,318.60 L442.05,319.08 L442.27,319.56 L442.50,320.03 L442.72,320.50 L442.94,320.96 L443.17,321.42 L443.39,321.87 L443.61,322.32 L443.84,322.76 L444.06,323.19 L444.28,323.62 L444.50,324.05 L444.73,324.46 L444.95,324.87 L445.17,325.27 L445.40,325.66 L445.62,326.04 L445.84,326.41 L446.06,326.77 L446.29,327.12 L446.51,327.46 L446.73,327.79 L446.96,328.11 L447.18,328.42 L447.40,328.72 L447.62,329.00 L447.85,329.27 L448.07,329.52 L448.29,329.77 L448.52,330.00 L448.74,330.21 L448.96,330.41 L449.19,330.60 L449.41,330.77 L449.63,330.93 L449.85,331.07 L450.08,331.19 L450.30,331.30 L450.52,331.39 L450.75,331.47 L450.97,331.53 L451.19,331.57 L451.41,331.60 L451.64,331.61 L451.86,331.60 L452.08,331.58 L452.31,331.54 L452.53,331.48 L452.75,331.41 L452.98,331.32 L453.20,331.21 L453.42,331.09 L453.64,330.95 L453.87,330.79 L454.09,330.61 L454.31,330.42 L454.54,330.22 L454.76,330.00 L454.98,329.76 L455.20,329.51 L455.43,329.24 L455.65,328.96 L455.87,328.66 L456.10,328.35 L456.32,328.03 L456.54,327.69 L456.76,327.34 L456.99,326.97 L457.21,326.60 L457.43,326.21 L457.66,325.81 L457.88,325.40 L458.10,324.98 L458.32,324.56 L458.55,324.12 L458.77,323.67 L458.99,323.21 L459.22,322.75 L459.44,322.28 L459.66,321.80 L459.89,321.32 L460.11,320.83 L460.33,320.34 L460.55,319.84 L460.78,319.34 L461.00,318.84 L461.22,318.33 L461.45,317.82 L461.67,317.31 L461.89,316.80 L462.11,316.29 L462.34,315.78 L462.56,315.27 L462.78,314.76 L463.01,314.26 L463.23,313.76 L463.45,313.26 L463.68,312.76 L463.90,312.27 L464.12,311.79 L464.34,311.31 L464.57,310.83 L464.79,310.36 L465.01,309.90 L465.24,309.45 L465.46,309.01 L465.68,308.57 L465.90,308.14 L466.13,307.72 L466.35,307.31 L466.57,306.91 L466.80,306.52 L467.02,306.14 L467.24,305.78 L467.46,305.42 L467.69,305.08 L467.91,304.74 L468.13,304.42 L468.36,304.11 L468.58,303.82 L468.80,303.53 L469.02,303.26 L469.25,303.00 L469.47,302.76 L469.69,302.53 L469.92,302.31 L470.14,302.11 L470.36,301.91 L470.59,301.74 L470.81,301.57 L471.03,301.42 L471.25,301.28 L471.48,301.16 L471.70,301.04 L471.92,300.95 L472.15,300.86 L472.37,300.79 L472.59,300.73 L472.81,300.68 L473.04,300.65 L473.26,300.62 L473.48,300.61 L473.71,300.62 L473.93,300.63 L474.15,300.65 L474.38,300.69 L474.60,300.74 L474.82,300.80 L475.04,300.86 L475.27,300.94 L475.49,301.03 L475.71,301.13 L475.94,301.24 L476.16,301.36 L476.38,301.48 L476.60,301.62 L476.83,301.76 L477.05,301.91 L477.27,302.07 L477.50,302.24 L477.72,302.41 L477.94,302.59 L478.16,302.78 L478.39,302.98 L478.61,303.18 L478.83,303.38 L479.06,303.59 L479.28,303.81 L479.50,304.03 L479.73,304.26 L479.95,304.49 L480.17,304.72 L480.39,304.96 L480.62,305.21 L480.84,305.45 L481.06,305.70 L481.29,305.96 L481.51,306.22 L481.73,306.48 L481.95,306.74 L482.18,307.00 L482.40,307.27 L482.62,307.54 L482.85,307.81 L483.07,308.09 L483.29,308.37 L483.51,308.65 L483.74,308.93 L483.96,309.21 L484.18,309.49 L484.41,309.78 L484.63,310.07 L484.85,310.36 L485.08,310.65 L485.30,310.94 L485.52,311.24 L485.74,311.53 L485.97,311.83 L486.19,312.13 L486.41,312.43 L486.64,312.74 L486.86,313.04 L487.08,313.35 L487.30,313.66 L487.53,313.97 L487.75,314.28 L487.97,314.59 L488.20,314.91 L488.42,315.23 L488.64,315.55 L488.86,315.87 L489.09,316.20 L489.31,316.52 L489.53,316.85 L489.76,317.19 L489.98,317.52 L490.20,317.86 L490.43,318.20 L490.65,318.54 L490.87,318.89 L491.09,319.23 L491.32,319.58 L491.54,319.94 L491.76,320.29 L491.99,320.65 L492.21,321.01 L492.43,321.38 L492.65,321.74 L492.88,322.11 L493.10,322.48 L493.32,322.85 L493.55,323.23 L493.77,323.60 L493.99,323.98 L494.21,324.37 L494.44,324.75 L494.66,325.13 L494.88,325.52 L495.11,325.91 L495.33,326.29 L495.55,326.68 L495.77,327.07 L496.00,327.46 L496.22,327.85 L496.44,328.24 L496.67,328.63 L496.89,329.02 L497.11,329.41 L497.34,329.80 L497.56,330.19 L497.78,330.57 L498.00,330.95 L498.23,331.33 L498.45,331.71 L498.67,332.09 L498.90,332.46 L499.12,332.82 L499.34,333.19 L499.56,333.55 L499.79,333.90 L500.01,334.25 L500.23,334.59 L500.46,334.93 L500.68,335.26 L500.90,335.58 L501.12,335.89 L501.35,336.20 L501.57,336.50 L501.79,336.79 L502.02,337.07 L502.24,337.34 L502.46,337.61 L502.69,337.86 L502.91,338.10 L503.13,338.33 L503.35,338.55 L503.58,338.76 L503.80,338.95 L504.02,339.14 L504.25,339.31 L504.47,339.46 L504.69,339.61 L504.91,339.74 L505.14,339.85 L505.36,339.96 L505.58,340.04 L505.81,340.12 L506.03,340.17 L506.25,340.22 L506.48,340.24 L506.70,340.25 L506.92,340.25 L507.14,340.23 L507.37,340.19 L507.59,340.14 L507.81,340.07 L508.04,339.99 L508.26,339.88 L508.48,339.77 L508.70,339.63 L508.93,339.48 L509.15,339.31 L509.37,339.13 L509.60,338.93 L509.82,338.72 L510.04,338.49 L510.26,338.24 L510.49,337.98 L510.71,337.70 L510.93,337.41 L511.16,337.10 L511.38,336.78 L511.60,336.44 L511.83,336.09 L512.05,335.72 L512.27,335.35 L512.49,334.96 L512.72,334.55 L512.94,334.14 L513.16,333.71 L513.39,333.27 L513.61,332.82 L513.83,332.36 L514.05,331.89 L514.28,331.41 L514.50,330.92 L514.72,330.42 L514.95,329.92 L515.17,329.40 L515.39,328.88 L515.61,328.36 L515.84,327.83 L516.06,327.29 L516.28,326.75 L516.51,326.20 L516.73,325.65 L516.95,325.10 L517.17,324.55 L517.40,323.99 L517.62,323.43 L517.84,322.88 L518.07,322.32 L518.29,321.76 L518.51,321.20 L518.74,320.65 L518.96,320.10 L519.18,319.55 L519.40,319.01 L519.63,318.47 L519.85,317.93 L520.07,317.40 L520.30,316.87 L520.52,316.35 L520.74,315.84 L520.96,315.34 L521.19,314.84 L521.41,314.35 L521.63,313.87 L521.86,313.39 L522.08,312.93 L522.30,312.48 L522.52,312.04 L522.75,311.60 L522.97,311.18 L523.19,310.77 L523.42,310.37 L523.64,309.99 L523.86,309.61 L524.09,309.25 L524.31,308.90 L524.53,308.56 L524.75,308.24 L524.98,307.92 L525.20,307.63 L525.42,307.34 L525.65,307.07 L525.87,306.81 L526.09,306.57 L526.31,306.33 L526.54,306.12 L526.76,305.91 L526.98,305.72 L527.21,305.55 L527.43,305.38 L527.65,305.23 L527.88,305.10 L528.10,304.98 L528.32,304.87 L528.54,304.77 L528.77,304.69 L528.99,304.62 L529.21,304.56 L529.44,304.51 L529.66,304.48 L529.88,304.46 L530.10,304.45 L530.33,304.45 L530.55,304.47 L530.77,304.49 L531.00,304.53 L531.22,304.57 L531.44,304.63 L531.66,304.70 L531.89,304.77 L532.11,304.86 L532.33,304.95 L532.56,305.06 L532.78,305.17 L533.00,305.29 L533.23,305.42 L533.45,305.56 L533.67,305.71 L533.89,305.86 L534.12,306.02 L534.34,306.18 L534.56,306.35 L534.79,306.53 L535.01,306.72 L535.23,306.91 L535.45,307.10 L535.68,307.30 L535.90,307.50 L536.12,307.71 L536.35,307.93 L536.57,308.15 L536.79,308.37 L537.01,308.59 L537.24,308.82 L537.46,309.05 L537.68,309.29 L537.91,309.53 L538.13,309.77 L538.35,310.02 L538.58,310.26 L538.80,310.51 L539.02,310.76 L539.24,311.02 L539.47,311.27 L539.69,311.53 L539.91,311.79 L540.14,312.06 L540.36,312.32 L540.58,312.59 L540.80,312.86 L541.03,313.13 L541.25,313.40 L541.47,313.67 L541.70,313.95 L541.92,314.22 L542.14,314.50 L542.36,314.79 L542.59,315.07 L542.81,315.35 L543.03,315.64 L543.26,315.93 L543.48,316.22 L543.70,316.51 L543.92,316.81 L544.15,317.11 L544.37,317.41 L544.59,317.71 L544.82,318.01 L545.04,318.32 L545.26,318.63 L545.49,318.94 L545.71,319.25 L545.93,319.57 L546.15,319.89 L546.38,320.21 L546.60,320.54 L546.82,320.86 L547.05,321.19 L547.27,321.53 L547.49,321.86 L547.71,322.20 L547.94,322.54 L548.16,322.89 L548.38,323.23 L548.61,323.58 L548.83,323.93 L549.05,324.29 L549.27,324.64 L549.50,325.00 L549.72,325.36 L549.94,325.73 L550.17,326.09 L550.39,326.46 L550.61,326.83 L550.84,327.20 L551.06,327.57 L551.28,327.95 L551.50,328.32 L551.73,328.70 L551.95,329.07 L552.17,329.45 L552.40,329.83 L552.62,330.20 L552.84,330.58 L553.06,330.96 L553.29,331.33 L553.51,331.71 L553.73,332.08 L553.96,332.45 L554.18,332.82 L554.40,333.18 L554.62,333.54 L554.85,333.90 L555.07,334.26 L555.29,334.61 L555.52,334.96 L555.74,335.30 L555.96,335.64 L556.19,335.97 L556.41,336.30 L556.63,336.62 L556.85,336.93 L557.08,337.24 L557.30,337.54 L557.52,337.83 L557.75,338.11 L557.97,338.38 L558.19,338.65 L558.41,338.90 L558.64,339.15 L558.86,339.38 L559.08,339.60 L559.31,339.82 L559.53,340.02 L559.75,340.21 L559.97,340.38 L560.20,340.55 L560.42,340.70 L560.64,340.84 L560.87,340.96 L561.09,341.07 L561.31,341.17 L561.54,341.25 L561.76,341.32 L561.98,341.37 L562.20,341.41 L562.43,341.43 L562.65,341.44 L562.87,341.43 L563.10,341.40 L563.32,341.36 L563.54,341.31 L563.76,341.23 L563.99,341.14 L564.21,341.04 L564.43,340.92 L564.66,340.78 L564.88,340.63 L565.10,340.46 L565.33,340.27 L565.55,340.07 L565.77,339.85 L565.99,339.61 L566.22,339.36 L566.44,339.10 L566.66,338.82 L566.89,338.52 L567.11,338.21 L567.33,337.89 L567.55,337.55 L567.78,337.19 L568.00,336.82 L568.22,336.44 L568.45,336.05 L568.67,335.64 L568.89,335.22 L569.11,334.79 L569.34,334.35 L569.56,333.89 L569.78,333.43 L570.01,332.95 L570.23,332.47 L570.45,331.98 L570.67,331.48 L570.90,330.97 L571.12,330.45 L571.34,329.92 L571.57,329.39 L571.79,328.86 L572.01,328.31 L572.24,327.77 L572.46,327.21 L572.68,326.66 L572.90,326.10 L573.13,325.54 L573.35,324.98 L573.57,324.42 L573.80,323.85 L574.02,323.29 L574.24,322.72 L574.46,322.16 L574.69,321.60 L574.91,321.04 L575.13,320.49 L575.36,319.94 L575.58,319.39 L575.80,318.84 L576.02,318.30 L576.25,317.77 L576.47,317.24 L576.69,316.72 L576.92,316.21 L577.14,315.70 L577.36,315.21 L577.59,314.72 L577.81,314.24 L578.03,313.76 L578.25,313.30 L578.48,312.85 L578.70,312.41 L578.92,311.98 L579.15,311.56 L579.37,311.15 L579.59,310.76 L579.81,310.37 L580.04,310.00 L580.26,309.64 L580.48,309.29 L580.71,308.96 L580.93,308.64 L581.15,308.33 L581.38,308.04 L581.60,307.76 L581.82,307.49 L582.04,307.24 L582.27,307.00 L582.49,306.77 L582.71,306.56 L582.94,306.36 L583.16,306.17 L583.38,306.00 L583.60,305.84 L583.83,305.70 L584.05,305.56 L584.27,305.45 L584.50,305.34 L584.72,305.25 L584.94,305.17 L585.16,305.11 L585.39,305.05 L585.61,305.01 L585.83,304.98 L586.06,304.96 L586.28,304.96 L586.50,304.96 L586.73,304.98 L586.95,305.01 L587.17,305.05 L587.39,305.10 L587.62,305.16 L587.84,305.23 L588.06,305.31 L588.29,305.40 L588.51,305.49 L588.73,305.60 L588.95,305.71 L589.18,305.84 L589.40,305.97 L589.62,306.11 L589.85,306.25 L590.07,306.41 L590.29,306.57 L590.51,306.73 L590.74,306.91 L590.96,307.08 L591.18,307.27 L591.41,307.46 L591.63,307.65 L591.85,307.85 L592.08,308.06 L592.30,308.27 L592.52,308.48 L592.74,308.70 L592.97,308.92 L593.19,309.14 L593.41,309.37 L593.64,309.60 L593.86,309.84 L594.08,310.08 L594.30,310.32 L594.53,310.56 L594.75,310.80 L594.97,311.05 L595.20,311.30 L595.42,311.56 L595.64,311.81 L595.86,312.07 L596.09,312.33 L596.31,312.59 L596.53,312.85 L596.76,313.12 L596.98,313.38 L597.20,313.65 L597.42,313.92 L597.65,314.19 L597.87,314.47 L598.09,314.74 L598.32,315.02 L598.54,315.30 L598.76,315.58 L598.99,315.87 L599.21,316.15 L599.43,316.44 L599.65,316.73 L599.88,317.02 L600.10,317.32 L600.32,317.61 L600.55,317.91 L600.77,318.21 L600.99,318.52 L601.21,318.82 L601.44,319.13 L601.66,319.44 L601.88,319.76 L602.11,320.07 L602.33,320.39 L602.55,320.71 L602.77,321.04 L603.00,321.36 L603.22,321.69 L603.44,322.03 L603.67,322.36 L603.89,322.70 L604.11,323.04 L604.34,323.38 L604.56,323.73 L604.78,324.08 L605.00,324.43 L605.23,324.78 L605.45,325.14 L605.67,325.50 L605.90,325.86 L606.12,326.22 L606.34,326.59 L606.56,326.96 L606.79,327.32 L607.01,327.69 L607.23,328.06 L607.46,328.44 L607.68,328.81 L607.90,329.19 L608.12,329.56 L608.35,329.93 L608.57,330.31 L608.79,330.68 L609.02,331.06 L609.24,331.43 L609.46,331.80 L609.69,332.18 L609.91,332.54 L610.13,332.91 L610.35,333.28 L610.58,333.64 L610.80,334.00 L611.02,334.35 L611.25,334.70 L611.47,335.05 L611.69,335.39 L611.91,335.73 L612.14,336.07 L612.36,336.39 L612.58,336.71 L612.81,337.03 L613.03,337.33 L613.25,337.63 L613.48,337.92 L613.70,338.21 L613.92,338.48 L614.14,338.75 L614.37,339.00 L614.59,339.25 L614.81,339.49 L615.04,339.71 L615.26,339.93 L615.48,340.13 L615.70,340.32 L615.93,340.50 L616.15,340.67 L616.37,340.82 L616.60,340.96 L616.82,341.09 L617.04,341.20 L617.26,341.30 L617.49,341.39 L617.71,341.46 L617.93,341.52 L618.16,341.56 L618.38,341.58 L618.60,341.60 L618.83,341.59 L619.05,341.57 L619.27,341.53 L619.49,341.48 L619.72,341.41 L619.94,341.33 L620.16,341.23 L620.39,341.11 L620.61,340.98 L620.83,340.83 L621.05,340.66 L621.28,340.48 L621.50,340.28 L621.72,340.06 L621.95,339.83 L622.17,339.59 L622.39,339.33 L622.61,339.05 L622.84,338.76 L623.06,338.45 L623.28,338.13 L623.51,337.79 L623.73,337.44 L623.95,337.08 L624.17,336.70 L624.40,336.31 L624.62,335.90 L624.84,335.49 L625.07,335.06 L625.29,334.62 L625.51,334.17 L625.74,333.71 L625.96,333.23 L626.18,332.75 L626.40,332.26 L626.63,331.76 L626.85,331.25 L627.07,330.74 L627.30,330.21 L627.52,329.68 L627.74,329.15 L627.96,328.61 L628.19,328.06 L628.41,327.51 L628.63,326.95 L628.86,326.40 L629.08,325.83 L629.30,325.27 L629.52,324.71 L629.75,324.14 L629.97,323.58 L630.19,323.01 L630.42,322.45 L630.64,321.89 L630.86,321.33 L631.09,320.77 L631.31,320.22 L631.53,319.67 L631.75,319.12 L631.98,318.58 L632.20,318.04 L632.42,317.51 L632.65,316.99 L632.87,316.47 L633.09,315.96 L633.31,315.46 L633.54,314.97 L633.76,314.49 L633.98,314.01 L634.21,313.54 L634.43,313.09 L634.65,312.64 L634.88,312.21 L635.10,311.79 L635.32,311.37 L635.54,310.97 L635.77,310.58 L635.99,310.21 L636.21,309.84 L636.44,309.49 L636.66,309.15 L636.88,308.83 L637.10,308.51 L637.33,308.21 L637.55,307.93 L637.77,307.66 L638.00,307.40 L638.22,307.15 L638.44,306.92 L638.66,306.70 L638.89,306.50 L639.11,306.31 L639.33,306.13 L639.56,305.97 L639.78,305.82 L640.00,305.68 L640.23,305.56 L640.45,305.45 L640.67,305.35 L640.89,305.27 L641.12,305.20 L641.34,305.14 L641.56,305.09 L641.79,305.06 L642.01,305.04 L642.23,305.03 L642.45,305.03 L642.68,305.04 L642.90,305.07 L643.12,305.10 L643.35,305.15 L643.57,305.20 L643.79,305.27 L644.01,305.34 L644.24,305.43 L644.46,305.52 L644.68,305.63 L644.91,305.74 L645.13,305.86 L645.35,305.99 L645.58,306.12 L645.80,306.27 L646.02,306.42 L646.24,306.57 L646.47,306.74 L646.69,306.91 L646.91,307.08 L647.14,307.26 L647.36,307.45 L647.58,307.65 L647.80,307.84 L648.03,308.05 L648.25,308.25 L648.47,308.46 L648.70,308.68 L648.92,308.90 L649.14,309.12 L649.36,309.35 L649.59,309.58 L649.81,309.81 L650.03,310.05 L650.26,310.29 L650.48,310.53 L650.70,310.77 L650.92,311.02 L651.15,311.27 L651.37,311.52 L651.59,311.78 L651.82,312.03 L652.04,312.29 L652.26,312.55 L652.49,312.81 L652.71,313.08 L652.93,313.34 L653.15,313.61 L653.38,313.88 L653.60,314.15 L653.82,314.42 L654.05,314.70 L654.27,314.98 L654.49,315.25 L654.71,315.54 L654.94,315.82 L655.16,316.10 L655.38,316.39 L655.61,316.68 L655.83,316.97 L656.05,317.26 L656.27,317.56 L656.50,317.86 L656.72,318.16 L656.94,318.46 L657.17,318.76 L657.39,319.07 L657.61,319.38 L657.84,319.69 L658.06,320.01 L658.28,320.32 L658.50,320.65 L658.73,320.97 L658.95,321.29 L659.17,321.62 L659.40,321.95 L659.62,322.29 L659.84,322.63 L660.06,322.96 L660.29,323.31 L660.51,323.65 L660.73,324.00 L660.96,324.35 L661.18,324.70 L661.40,325.06 L661.62,325.42 L661.85,325.78 L662.07,326.14 L662.29,326.50 L662.52,326.87 L662.74,327.24 L662.96,327.60 L663.19,327.98 L663.41,328.35 L663.63,328.72 L663.85,329.09 L664.08,329.47 L664.30,329.84 L664.52,330.22 L664.75,330.59 L664.97,330.97 L665.19,331.34 L665.41,331.71 L665.64,332.08 L665.86,332.45 L666.08,332.82 L666.31,333.19 L666.53,333.55 L666.75,333.91 L666.98,334.27 L667.20,334.62 L667.42,334.97 L667.64,335.31 L667.87,335.65 L668.09,335.98 L668.31,336.31 L668.54,336.63 L668.76,336.95 L668.98,337.26 L669.20,337.56 L669.43,337.86 L669.65,338.14 L669.87,338.42 L670.10,338.69 L670.32,338.95 L670.54,339.20 L670.76,339.44 L670.99,339.66 L671.21,339.88 L671.43,340.09 L671.66,340.28 L671.88,340.47 L672.10,340.64 L672.33,340.80 L672.55,340.94 L672.77,341.07 L672.99,341.19 L673.22,341.30 L673.44,341.39 L673.66,341.46 L673.89,341.52 L674.11,341.57 L674.33,341.60 L674.55,341.62 L674.78,341.62 L675.00,341.60" fill="none" stroke="#0000ff" stroke-width="1.50" stroke-linejoin="round"/>
</g>
<line x1="496.67" y1="462.30" x2="496.67" y2="459.30" stroke="#262626" stroke-width="1.30"/>
<line x1="496.67" y1="275.70" x2="496.67" y2="278.70" stroke="#262626" stroke-width="1.30"/>
<line x1="585.83" y1="462.30" x2="585.83" y2="459.30" stroke="#262626" stroke-width="1.30"/>
<line x1="585.83" y1="275.70" x2="585.83" y2="278.70" stroke="#262626" stroke-width="1.30"/>
<line x1="407.50" y1="462.30" x2="410.50" y2="462.30" stroke="#262626" stroke-width="1.30"/>
<line x1="675.00" y1="462.30" x2="672.00" y2="462.30" stroke="#262626" stroke-width="1.30"/>
<line x1="407.50" y1="415.65" x2="410.50" y2="415.65" stroke="#262626" stroke-width="1.30"/>
<line x1="675.00" y1="415.65" x2="672.00" y2="415.65" stroke="#262626" stroke-width="1.30"/>
<line x1="407.50" y1="369.00" x2="410.50" y2="369.00" stroke="#262626" stroke-width="1.30"/>
<line x1="675.00" y1="369.00" x2="672.00" y2="369.00" stroke="#262626" stroke-width="1.30"/>
<line x1="407.50" y1="322.35" x2="410.50" y2="322.35" stroke="#262626" stroke-width="1.30"/>
<line x1="675.00" y1="322.35" x2="672.00" y2="322.35" stroke="#262626" stroke-width="1.30"/>
<line x1="407.50" y1="275.70" x2="410.50" y2="275.70" stroke="#262626" stroke-width="1.30"/>
<line x1="675.00" y1="275.70" x2="672.00" y2="275.70" stroke="#262626" stroke-width="1.30"/>
<line x1="406.80" y1="275.70" x2="675.70" y2="275.70" stroke="#858585" stroke-width="2.40"/>
<line x1="406.80" y1="462.30" x2="675.70" y2="462.30" stroke="#383838" stroke-width="1.50"/>
<line x1="407.50" y1="275.00" x2="407.50" y2="463.00" stroke="#383838" stroke-width="1.50"/>
<line x1="675.00" y1="275.00" x2="675.00" y2="463.00" stroke="#383838" stroke-width="1.50"/>
<text class="t" transform="translate(400.60,470.30) scale(1.080,1)" font-size="16.50" letter-spacing="0.30" text-anchor="end"><tspan letter-spacing="2.10">-</tspan>0.6</text>
<text class="t" transform="translate(400.60,423.65) scale(1.080,1)" font-size="16.50" letter-spacing="0.30" text-anchor="end"><tspan letter-spacing="2.10">-</tspan>0.4</text>
<text class="t" transform="translate(400.60,377.00) scale(1.080,1)" font-size="16.50" letter-spacing="0.30" text-anchor="end"><tspan letter-spacing="2.10">-</tspan>0.2</text>
<text class="t" transform="translate(400.60,330.35) scale(1.080,1)" font-size="16.50" letter-spacing="0.30" text-anchor="end">0</text>
<text class="t" transform="translate(400.60,283.70) scale(1.080,1)" font-size="16.50" letter-spacing="0.30" text-anchor="end">0.2</text>
<text class="t" transform="translate(407.10,487.60) scale(1.080,1)" font-size="16.50" letter-spacing="0.60" text-anchor="middle">0</text>
<text class="t" transform="translate(495.07,487.60) scale(1.080,1)" font-size="16.50" letter-spacing="0.60" text-anchor="middle">20</text>
<text class="t" transform="translate(585.03,487.60) scale(1.080,1)" font-size="16.50" letter-spacing="0.60" text-anchor="middle">40</text>
<text class="t" transform="translate(674.20,487.60) scale(1.080,1)" font-size="16.50" letter-spacing="0.60" text-anchor="middle">60</text>
<text transform="translate(145.60,248.30) scale(1.060,1)" font-size="23.00" letter-spacing="0.00">Time(s)</text>
<text transform="translate(497.40,247.40) scale(1.060,1)" font-size="23.00" letter-spacing="0.00">Time(s)</text>
<text transform="translate(145.60,518.30) scale(1.060,1)" font-size="23.00" letter-spacing="0.00">Time(s)</text>
<text transform="translate(497.40,517.70) scale(1.060,1)" font-size="23.00" letter-spacing="0.00">Time(s)</text>
<text transform="translate(17.20,131.30) rotate(-90) scale(1.200,1)" font-size="24.00" class="s xx" >x</text>
<text transform="translate(20.60,118.20) rotate(-90) scale(1.000,1)" font-size="16.00" class="s xs" >1</text>
<text transform="translate(18.80,104.00) rotate(-90) scale(1.000,1)" font-size="21.50"  letter-spacing="-1.20">(°)</text>
<text transform="translate(20.10,403.50) rotate(-90) scale(1.200,1)" font-size="24.00" class="s xx" >x</text>
<text transform="translate(24.10,389.90) rotate(-90) scale(1.000,1)" font-size="16.00" class="s xs" >2</text>
<text transform="translate(26.10,375.90) rotate(-90) scale(1.000,1)" font-size="21.50"  letter-spacing="-0.70">(°/s)</text>
<text transform="translate(359.20,202.50) rotate(-90) scale(1.200,1)" font-size="24.00" class="s xx" >x</text>
<text transform="translate(362.30,189.40) rotate(-90) scale(1.000,1)" font-size="16.00" class="s xs" >1</text>
<text transform="translate(357.90,172.50) rotate(-90) scale(1.000,1)" font-size="20.00"  letter-spacing="-0.10">observation error(°)</text>
<text transform="translate(358.50,478.70) rotate(-90) scale(1.200,1)" font-size="24.00" class="s xx" >x</text>
<text transform="translate(361.70,465.90) rotate(-90) scale(1.000,1)" font-size="16.00" class="s xs" >2</text>
<text transform="translate(358.20,448.90) rotate(-90) scale(1.000,1)" font-size="20.00"  letter-spacing="-0.10">observation error(°/s)</text>
<rect x="117.40" y="15.60" width="193.70" height="53.70" fill="#fff"/>
<line x1="116.80" y1="15.60" x2="311.70" y2="15.60" stroke="#202020" stroke-width="1.30"/>
<line x1="116.80" y1="69.30" x2="311.70" y2="69.30" stroke="#202020" stroke-width="1.30"/>
<line x1="117.40" y1="15.00" x2="117.40" y2="69.90" stroke="#202020" stroke-width="1.30"/>
<line x1="311.10" y1="15.00" x2="311.10" y2="69.90" stroke="#7a7a7a" stroke-width="2.30"/>
<line x1="120.50" y1="30.60" x2="162.00" y2="30.60" stroke="#0000ff" stroke-width="1.50"/>
<line x1="120.50" y1="56.50" x2="162.00" y2="56.50" stroke="#ff4040" stroke-width="2.50" stroke-dasharray="7,2.5,1,2.5" opacity="0.50"/>
<text class="l" x="164.50" y="38.90" font-size="20.00" letter-spacing="0.20" word-spacing="-2.50">Output signal</text>
<text class="l" x="164.50" y="63.50" font-size="20.00" letter-spacing="0.20" word-spacing="-2.50">Observed signal</text>
<rect x="117.60" y="285.40" width="193.50" height="53.90" fill="#fff"/>
<line x1="117.00" y1="285.40" x2="311.70" y2="285.40" stroke="#7a7a7a" stroke-width="2.30"/>
<line x1="117.00" y1="339.30" x2="311.70" y2="339.30" stroke="#7a7a7a" stroke-width="2.30"/>
<line x1="117.60" y1="284.80" x2="117.60" y2="339.90" stroke="#202020" stroke-width="1.30"/>
<line x1="311.10" y1="284.80" x2="311.10" y2="339.90" stroke="#7a7a7a" stroke-width="2.30"/>
<line x1="120.50" y1="298.80" x2="162.00" y2="298.80" stroke="#0000ff" stroke-width="1.50"/>
<line x1="120.50" y1="325.40" x2="162.00" y2="325.40" stroke="#ff0000" stroke-width="1.20" stroke-dasharray="7,2.5,1,2.5" opacity="0.60"/>
<text class="l" x="164.50" y="307.00" font-size="20.00" letter-spacing="0.20" word-spacing="-2.50">Output signal</text>
<text class="l" x="164.50" y="334.00" font-size="20.00" letter-spacing="0.20" word-spacing="-2.50">Observed signal</text>
</svg></body></html>
